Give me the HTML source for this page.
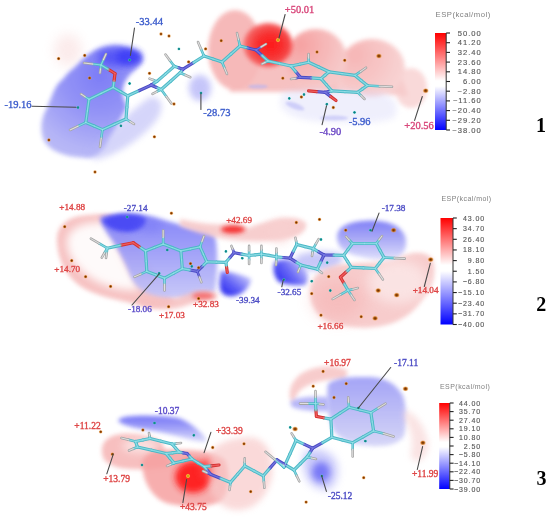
<!DOCTYPE html>
<html><head><meta charset="utf-8"><style>
html,body{margin:0;padding:0;background:#fff;}
svg{display:block;filter:blur(0.45px);}
.tk{font-family:"Liberation Sans",sans-serif;font-size:7px;fill:#5a5a5a;stroke:#5a5a5a;stroke-width:0.15px;letter-spacing:0.9px;}
.tt{font-family:"Liberation Sans",sans-serif;font-size:7px;fill:#808080;letter-spacing:0.45px;}
.num{font-family:"Liberation Serif",serif;font-size:20px;font-weight:bold;fill:#000;}
.lb{font-family:"Liberation Serif",serif;font-size:10.3px;}
</style></head><body>
<svg width="550" height="522" viewBox="0 0 550 522">
<defs>
<filter id="bl1" x="-50%" y="-50%" width="200%" height="200%"><feGaussianBlur stdDeviation="1"/></filter>
<filter id="bl2" x="-50%" y="-50%" width="200%" height="200%"><feGaussianBlur stdDeviation="2"/></filter>
<filter id="bl3" x="-50%" y="-50%" width="200%" height="200%"><feGaussianBlur stdDeviation="3"/></filter>
<filter id="bl4" x="-50%" y="-50%" width="200%" height="200%"><feGaussianBlur stdDeviation="4"/></filter>
<filter id="bl5" x="-50%" y="-50%" width="200%" height="200%"><feGaussianBlur stdDeviation="5"/></filter>
<filter id="bl6" x="-50%" y="-50%" width="200%" height="200%"><feGaussianBlur stdDeviation="6"/></filter>
<filter id="bl8" x="-50%" y="-50%" width="200%" height="200%"><feGaussianBlur stdDeviation="8"/></filter>
<filter id="bl10" x="-50%" y="-50%" width="200%" height="200%"><feGaussianBlur stdDeviation="10"/></filter>
<radialGradient id="p1red" cx="0.55" cy="0.5" r="0.55"><stop offset="0" stop-color="#ff1010"/><stop offset="0.55" stop-color="#f63030"/><stop offset="1" stop-color="#f67070"/></radialGradient>
<radialGradient id="p1bl" gradientUnits="userSpaceOnUse" cx="100" cy="75" r="80"><stop offset="0" stop-color="#7676f6"/><stop offset="0.5" stop-color="#9090f6"/><stop offset="1" stop-color="#b4b4f6"/></radialGradient>
<radialGradient id="p1l3" gradientUnits="userSpaceOnUse" cx="300" cy="45" r="45"><stop offset="0" stop-color="#f69a9a"/><stop offset="1" stop-color="#f6c4c4"/></radialGradient>
<radialGradient id="p1l4" gradientUnits="userSpaceOnUse" cx="355" cy="55" r="50"><stop offset="0" stop-color="#f6b0b0"/><stop offset="1" stop-color="#f8d0d0"/></radialGradient>
<linearGradient id="p2blue" x1="0" y1="212" x2="0" y2="300" gradientUnits="userSpaceOnUse"><stop offset="0" stop-color="#8080f8"/><stop offset="0.35" stop-color="#9696f8"/><stop offset="1" stop-color="#c8c8f8"/></linearGradient>
<linearGradient id="p2blue2" x1="0" y1="218" x2="0" y2="265" gradientUnits="userSpaceOnUse"><stop offset="0" stop-color="#6a6af6"/><stop offset="0.4" stop-color="#9c9cf6"/><stop offset="1" stop-color="#eaeafc"/></linearGradient>
<linearGradient id="p2d39" gradientUnits="userSpaceOnUse" x1="242" y1="274" x2="226" y2="294"><stop offset="0" stop-color="#b4b4fa"/><stop offset="0.55" stop-color="#5a5af6"/><stop offset="1" stop-color="#2a2af0"/></linearGradient>
<linearGradient id="p2d32" gradientUnits="userSpaceOnUse" x1="302" y1="263" x2="279" y2="281"><stop offset="0" stop-color="#c0c0fa"/><stop offset="0.5" stop-color="#6464f6"/><stop offset="1" stop-color="#2c2cf0"/></linearGradient>
<linearGradient id="p3band" x1="0" y1="415" x2="0" y2="440" gradientUnits="userSpaceOnUse"><stop offset="0" stop-color="#6a6af6"/><stop offset="0.5" stop-color="#9a9af8"/><stop offset="1" stop-color="#d4d4fa"/></linearGradient>
<linearGradient id="p3blue" x1="0" y1="376" x2="0" y2="448" gradientUnits="userSpaceOnUse"><stop offset="0" stop-color="#9a9af6"/><stop offset="0.5" stop-color="#b6b6f6"/><stop offset="1" stop-color="#d4d4f7"/></linearGradient>
<radialGradient id="dor"><stop offset="0" stop-color="#5a2a00"/><stop offset="0.5" stop-color="#b05a10"/><stop offset="1" stop-color="#f0a040" stop-opacity="0.3"/></radialGradient>
<radialGradient id="dyl"><stop offset="0" stop-color="#c08000"/><stop offset="0.6" stop-color="#f0c020"/><stop offset="1" stop-color="#f8d060" stop-opacity="0.3"/></radialGradient>
<radialGradient id="dcy"><stop offset="0" stop-color="#106c70"/><stop offset="0.6" stop-color="#20a0a0"/><stop offset="1" stop-color="#60d0d0" stop-opacity="0.3"/></radialGradient>
</defs>
<rect width="550" height="522" fill="#fff"/>
<ellipse cx="68" cy="50" rx="14" ry="16" fill="#f6c8c8" opacity="0.35" filter="url(#bl6)"/>
<path d="M53,93 C56,86 59,82 63,79 C67,74 70,71 74.5,67.6 C78,64 82,60 86,56 C90,53 93,51 97.5,49 C102,47 106,46 112,45.5 C118,45 122,46 126,47.5 C132,50 137,52 141,55 C143,58 143,61 141,64 C138,67 136,69 134,71 C128,76 125,80 123,88 C122,95 124,100 127,106 C122,118 115,130 108,140 C105,148 100,154 90,158 C78,158 65,156 55,151 C46,146 42,140 41.5,130 C41,120 44,113 47,108 C49,103 51,98 53,93 Z" fill="url(#p1bl)" opacity="0.95" filter="url(#bl2)"/>
<ellipse cx="129" cy="57" rx="13" ry="8" fill="#3c3cf6" opacity="0.9" filter="url(#bl3)"/>
<ellipse cx="117" cy="57" rx="20" ry="9" fill="#4040f6" opacity="0.7" filter="url(#bl4)"/>
<ellipse cx="200" cy="88" rx="11" ry="13" fill="#a0a0f6" opacity="0.6" filter="url(#bl3)"/>
<path d="M88,152 C100,140 125,115 150,97 C162,96 166,108 155,122 C140,140 115,156 95,160 Z" fill="#b4b4f6" opacity="0.55" filter="url(#bl3)"/>
<g opacity="0.92" filter="url(#bl2)"><ellipse cx="411" cy="88" rx="16" ry="20" fill="#f9d6d6"/><path d="M330,60 L400,72 L408,96 L340,92 Z" fill="#f7c8c8"/><ellipse cx="372" cy="68" rx="33" ry="29" fill="url(#p1l4)"/><path d="M225,55 L330,60 L340,92 L230,92 Z" fill="#f6bcbc"/><ellipse cx="316" cy="60" rx="31" ry="31" fill="url(#p1l3)"/><ellipse cx="235" cy="50" rx="27" ry="40" fill="#f6b4b4"/></g>
<g opacity="0.97" filter="url(#bl2)"><ellipse cx="268" cy="45" rx="24.5" ry="22" fill="url(#p1red)"/></g>
<path d="M282,92 C300,88 340,90 380,92 C396,96 400,108 394,118 C380,124 350,124 320,122 C300,120 285,115 280,105 Z" fill="#dcdcfa" opacity="0.45" filter="url(#bl3)"/>
<ellipse cx="258" cy="86.5" rx="10" ry="2" fill="#b4b4f6" opacity="0.6" filter="url(#bl1)"/>
<ellipse cx="295" cy="106" rx="10" ry="3" fill="#b4b4f6" opacity="0.55" filter="url(#bl1)" transform="rotate(20 295 106)"/>
<ellipse cx="334" cy="118" rx="14" ry="2.5" fill="#b8b8f6" opacity="0.55" filter="url(#bl1)"/>
<path d="M57,242 C56,228 64,219 80,216 C95,214 105,214 112,215 L140,250 L175,302 C165,309 150,309 135,304 C115,299 95,296 80,286 C66,276 58,260 57,242 Z" fill="#f6bcbc" opacity="0.9" filter="url(#bl2)"/>
<path d="M67,242 C67,232 76,225 90,223 L108,222 L124,258 L140,290 C125,291 110,288 96,281 C80,272 67,258 67,242 Z" fill="#ffffff" opacity="0.92" filter="url(#bl4)"/>
<path d="M100,217 C115,213 135,212 150,216 C165,220 180,225 195,229 C205,231 212,233 215,236 C218,250 218,270 215,292 C200,299 175,300 160,297 C145,294 135,288 130,275 C125,262 118,250 112,240 C106,232 101,225 100,217 Z" fill="url(#p2blue)" opacity="0.95" filter="url(#bl2)"/>
<path d="M102,220 C110,215 120,213.5 128,214 C136,214.5 142,216 146,219 C146,226 140,231 128,232 C116,232 106,228 102,220 Z" fill="#4040f4" opacity="0.85" filter="url(#bl2)"/>
<ellipse cx="150" cy="226" rx="12" ry="6" fill="#6a6af6" opacity="0.35" filter="url(#bl4)"/>
<path d="M140,296 C155,302 175,300 190,293 C200,289 212,290 218,294 L216,300 C205,300 195,302 185,306 C170,311 155,310 140,304 Z" fill="#f6c0c0" opacity="0.85" filter="url(#bl2)"/>
<ellipse cx="203" cy="296" rx="11" ry="3.5" fill="#f65050" opacity="0.7" filter="url(#bl2)"/>
<path d="M180,219 C195,222 210,225 222,224 C232,222 242,224 248,228 C258,224 270,220 282,218 C292,217 302,218 306,223 C308,230 300,236 290,238 C275,241 262,242 245,241 C225,240 205,236 180,226 Z" fill="#f6c6c6" opacity="0.85" filter="url(#bl2)"/>
<ellipse cx="233" cy="229.5" rx="12" ry="4" fill="#f62828" opacity="0.9" filter="url(#bl2)"/>
<path d="M221,271 C232,272 243,275 251,279 C250,287 244,294 234,296 C226,297 221,294 220,288 C219,282 220,276 221,271 Z" fill="url(#p2d39)" opacity="0.95" filter="url(#bl2)"/>
<path d="M296,256 C310,250 330,250 342,254 C345,262 338,268 325,270 C312,272 300,270 296,264 Z" fill="#b0b0f6" opacity="0.7" filter="url(#bl3)"/>
<path d="M275,262 C284,257 296,259 302,265 C308,271 310,279 305,285 C295,286 285,284 279,282 C274,277 272,268 275,262 Z" fill="url(#p2d32)" opacity="0.95" filter="url(#bl2)"/>
<path d="M337,236 C338,226 350,221 370,220.5 C388,220.5 400,225 405,236 C408,246 404,256 395,260 C380,262 360,258 346,252 C339,248 337,242 337,236 Z" fill="url(#p2blue2)" opacity="0.9" filter="url(#bl2)"/>
<path d="M310,292 C310,278 320,268 338,265 C358,262 380,264 398,258 C410,252 424,250 432,258 C437,270 434,288 424,298 C414,312 402,322 382,326 C362,330 335,327 322,318 C313,310 310,300 310,292 Z" fill="#f6c4c4" opacity="0.85" filter="url(#bl2)"/>
<ellipse cx="338" cy="300" rx="26" ry="20" fill="#f6a8a8" opacity="0.4" filter="url(#bl8)"/>
<ellipse cx="398" cy="282" rx="30" ry="22" fill="#ffffff" opacity="0.45" filter="url(#bl6)"/>
<ellipse cx="280" cy="232" rx="12" ry="12" fill="#f8d0d0" opacity="0.55" filter="url(#bl4)"/>
<path d="M102,452 C101,442 108,435 122,434 C138,433 152,436 162,442 L170,466 C155,470 135,470 120,468 C108,465 102,460 102,452 Z" fill="#f6b4b4" opacity="0.85" filter="url(#bl2)"/>
<ellipse cx="140" cy="446" rx="18" ry="7" fill="#ffffff" opacity="0.55" filter="url(#bl4)"/>
<path d="M118,421 C119,418 124,416.5 135,416 C150,415.5 165,416 178,418 C188,421 196,428 202,434 C206,438 207,441 205,442 C198,442 188,439 177,436 C165,433 155,431 145,429.5 C135,428 124,426 118,421 Z" fill="url(#p3band)" opacity="0.95" filter="url(#bl2)"/>
<path d="M142,462 C145,452 160,448 180,450 C200,450 215,452 225,460 C230,472 230,490 222,500 C210,508 190,508 170,504 C152,500 142,480 142,462 Z" fill="#f6a0a0" opacity="0.85" filter="url(#bl2)"/>
<ellipse cx="193" cy="477" rx="18" ry="16" fill="#ff1c1c" opacity="0.95" filter="url(#bl3)"/>
<ellipse cx="208" cy="470" rx="9" ry="11" fill="#ff3c3c" opacity="0.7" filter="url(#bl3)"/>
<path d="M210,452 C220,440 240,436 255,438 C268,442 274,456 272,476 C268,496 255,510 238,510 C225,510 215,502 210,490 Z" fill="#f8caca" opacity="0.7" filter="url(#bl3)"/>
<path d="M290,398 C288,385 297,372 315,368 C328,365 340,366 348,371 L345,379 C330,379 315,381 305,387 C298,391 295,396 294,404 Z" fill="#f6c0c0" opacity="0.8" filter="url(#bl2)"/>
<path d="M290,402 C296,397 310,396 328,397 L330,411 C315,412 300,410 292,407 Z" fill="#a4a4f6" opacity="0.8" filter="url(#bl2)"/>
<path d="M328,384 C334,378 350,376.5 370,377 C385,378 396,383 403,396 C407,408 407,425 404,436 C398,445 385,447 370,446 C352,445 340,440 333,430 C328,418 326,398 328,384 Z" fill="url(#p3blue)" opacity="0.9" filter="url(#bl2)"/>
<path d="M305,452 C312,447 326,449 334,458 C340,468 338,482 330,489 C320,491 311,486 307,478 C303,470 302,460 305,452 Z" fill="#a4a4f8" opacity="0.6" filter="url(#bl4)"/>
<ellipse cx="321" cy="472" rx="9" ry="10" fill="#6c6cf6" opacity="0.85" filter="url(#bl3)"/>
<path d="M404,410 C414,412 424,424 428,440 C430,452 424,460 416,462 L410,456 C414,446 412,430 404,418 Z" fill="#f8d8d8" opacity="0.7" filter="url(#bl3)"/>
<line x1="113.2" y1="87.5" x2="120.5" y2="91.7" stroke="#4cb8c6" stroke-width="3.20" stroke-linecap="round"/>
<line x1="120.5" y1="91.7" x2="127.8" y2="95.8" stroke="#4cb8c6" stroke-width="3.20" stroke-linecap="round"/>
<line x1="127.8" y1="95.8" x2="126.9" y2="107.4" stroke="#4cb8c6" stroke-width="3.20" stroke-linecap="round"/>
<line x1="126.9" y1="107.4" x2="126.0" y2="119.0" stroke="#4cb8c6" stroke-width="3.20" stroke-linecap="round"/>
<line x1="126.0" y1="119.0" x2="114.2" y2="124.3" stroke="#4cb8c6" stroke-width="3.20" stroke-linecap="round"/>
<line x1="114.2" y1="124.3" x2="102.5" y2="129.6" stroke="#4cb8c6" stroke-width="3.20" stroke-linecap="round"/>
<line x1="102.5" y1="129.6" x2="94.2" y2="126.0" stroke="#4cb8c6" stroke-width="3.20" stroke-linecap="round"/>
<line x1="94.2" y1="126.0" x2="85.8" y2="122.5" stroke="#4cb8c6" stroke-width="3.20" stroke-linecap="round"/>
<line x1="85.8" y1="122.5" x2="87.4" y2="110.9" stroke="#4cb8c6" stroke-width="3.20" stroke-linecap="round"/>
<line x1="87.4" y1="110.9" x2="89.0" y2="99.3" stroke="#4cb8c6" stroke-width="3.20" stroke-linecap="round"/>
<line x1="89.0" y1="99.3" x2="101.1" y2="93.4" stroke="#4cb8c6" stroke-width="3.20" stroke-linecap="round"/>
<line x1="101.1" y1="93.4" x2="113.2" y2="87.5" stroke="#4cb8c6" stroke-width="3.20" stroke-linecap="round"/>
<line x1="89.0" y1="99.3" x2="85.0" y2="96.7" stroke="#4cb8c6" stroke-width="2.56" stroke-linecap="round"/>
<line x1="85.0" y1="96.7" x2="81.0" y2="94.0" stroke="#a4a4a4" stroke-width="2.56" stroke-linecap="round"/>
<line x1="85.8" y1="122.5" x2="77.9" y2="126.2" stroke="#4cb8c6" stroke-width="2.56" stroke-linecap="round"/>
<line x1="77.9" y1="126.2" x2="70.0" y2="130.0" stroke="#a4a4a4" stroke-width="2.56" stroke-linecap="round"/>
<line x1="102.5" y1="129.6" x2="101.2" y2="138.3" stroke="#4cb8c6" stroke-width="2.56" stroke-linecap="round"/>
<line x1="101.2" y1="138.3" x2="100.0" y2="147.0" stroke="#a4a4a4" stroke-width="2.56" stroke-linecap="round"/>
<line x1="126.0" y1="119.0" x2="130.0" y2="121.5" stroke="#4cb8c6" stroke-width="2.56" stroke-linecap="round"/>
<line x1="130.0" y1="121.5" x2="134.0" y2="124.0" stroke="#a4a4a4" stroke-width="2.56" stroke-linecap="round"/>
<line x1="113.2" y1="87.5" x2="114.1" y2="80.5" stroke="#4cb8c6" stroke-width="3.20" stroke-linecap="round"/>
<line x1="114.1" y1="80.5" x2="115.0" y2="73.5" stroke="#d43030" stroke-width="3.20" stroke-linecap="round"/>
<line x1="115.0" y1="73.5" x2="108.0" y2="69.2" stroke="#d43030" stroke-width="3.20" stroke-linecap="round"/>
<line x1="108.0" y1="69.2" x2="101.0" y2="65.0" stroke="#4cb8c6" stroke-width="3.20" stroke-linecap="round"/>
<line x1="101.0" y1="65.0" x2="92.5" y2="64.0" stroke="#4cb8c6" stroke-width="2.56" stroke-linecap="round"/>
<line x1="92.5" y1="64.0" x2="84.0" y2="63.0" stroke="#a4a4a4" stroke-width="2.56" stroke-linecap="round"/>
<line x1="101.0" y1="65.0" x2="103.5" y2="59.5" stroke="#4cb8c6" stroke-width="2.56" stroke-linecap="round"/>
<line x1="103.5" y1="59.5" x2="106.0" y2="54.0" stroke="#a4a4a4" stroke-width="2.56" stroke-linecap="round"/>
<line x1="101.0" y1="65.0" x2="100.5" y2="69.0" stroke="#4cb8c6" stroke-width="2.56" stroke-linecap="round"/>
<line x1="100.5" y1="69.0" x2="100.0" y2="73.0" stroke="#a4a4a4" stroke-width="2.56" stroke-linecap="round"/>
<line x1="127.8" y1="95.8" x2="139.4" y2="90.5" stroke="#4cb8c6" stroke-width="3.20" stroke-linecap="round"/>
<line x1="139.4" y1="90.5" x2="151.0" y2="85.2" stroke="#4a4ac4" stroke-width="3.20" stroke-linecap="round"/>
<line x1="151.0" y1="85.2" x2="153.9" y2="83.3" stroke="#4a4ac4" stroke-width="3.20" stroke-linecap="round"/>
<line x1="153.9" y1="83.3" x2="156.8" y2="81.5" stroke="#4cb8c6" stroke-width="3.20" stroke-linecap="round"/>
<line x1="156.8" y1="81.5" x2="165.6" y2="73.9" stroke="#4cb8c6" stroke-width="3.20" stroke-linecap="round"/>
<line x1="165.6" y1="73.9" x2="174.3" y2="66.3" stroke="#4cb8c6" stroke-width="3.20" stroke-linecap="round"/>
<line x1="174.3" y1="66.3" x2="178.7" y2="67.8" stroke="#4cb8c6" stroke-width="3.20" stroke-linecap="round"/>
<line x1="178.7" y1="67.8" x2="183.0" y2="69.2" stroke="#4a4ac4" stroke-width="3.20" stroke-linecap="round"/>
<line x1="183.0" y1="69.2" x2="181.6" y2="71.0" stroke="#4a4ac4" stroke-width="3.20" stroke-linecap="round"/>
<line x1="181.6" y1="71.0" x2="180.1" y2="72.8" stroke="#4cb8c6" stroke-width="3.20" stroke-linecap="round"/>
<line x1="180.1" y1="72.8" x2="170.6" y2="81.2" stroke="#4cb8c6" stroke-width="3.20" stroke-linecap="round"/>
<line x1="170.6" y1="81.2" x2="161.2" y2="89.5" stroke="#4cb8c6" stroke-width="3.20" stroke-linecap="round"/>
<line x1="161.2" y1="89.5" x2="156.1" y2="87.3" stroke="#4cb8c6" stroke-width="3.20" stroke-linecap="round"/>
<line x1="156.1" y1="87.3" x2="151.0" y2="85.2" stroke="#4a4ac4" stroke-width="3.20" stroke-linecap="round"/>
<line x1="174.3" y1="66.3" x2="169.9" y2="60.5" stroke="#4cb8c6" stroke-width="2.56" stroke-linecap="round"/>
<line x1="169.9" y1="60.5" x2="165.5" y2="54.6" stroke="#a4a4a4" stroke-width="2.56" stroke-linecap="round"/>
<line x1="156.8" y1="81.5" x2="153.2" y2="80.0" stroke="#4cb8c6" stroke-width="2.56" stroke-linecap="round"/>
<line x1="153.2" y1="80.0" x2="149.5" y2="78.6" stroke="#a4a4a4" stroke-width="2.56" stroke-linecap="round"/>
<line x1="180.1" y1="72.8" x2="185.2" y2="75.0" stroke="#4cb8c6" stroke-width="2.56" stroke-linecap="round"/>
<line x1="185.2" y1="75.0" x2="190.3" y2="77.2" stroke="#a4a4a4" stroke-width="2.56" stroke-linecap="round"/>
<line x1="161.2" y1="89.5" x2="156.8" y2="91.7" stroke="#4cb8c6" stroke-width="2.56" stroke-linecap="round"/>
<line x1="156.8" y1="91.7" x2="152.5" y2="93.9" stroke="#a4a4a4" stroke-width="2.56" stroke-linecap="round"/>
<line x1="161.2" y1="89.5" x2="166.3" y2="96.5" stroke="#4cb8c6" stroke-width="2.56" stroke-linecap="round"/>
<line x1="166.3" y1="96.5" x2="171.4" y2="103.4" stroke="#a4a4a4" stroke-width="2.56" stroke-linecap="round"/>
<line x1="183.0" y1="69.2" x2="193.5" y2="62.6" stroke="#4a4ac4" stroke-width="3.20" stroke-linecap="round"/>
<line x1="193.5" y1="62.6" x2="204.0" y2="56.0" stroke="#4cb8c6" stroke-width="3.20" stroke-linecap="round"/>
<line x1="204.0" y1="56.0" x2="213.0" y2="59.0" stroke="#4cb8c6" stroke-width="3.20" stroke-linecap="round"/>
<line x1="213.0" y1="59.0" x2="222.0" y2="62.0" stroke="#4cb8c6" stroke-width="3.20" stroke-linecap="round"/>
<line x1="222.0" y1="62.0" x2="231.0" y2="54.0" stroke="#4cb8c6" stroke-width="3.20" stroke-linecap="round"/>
<line x1="231.0" y1="54.0" x2="240.0" y2="46.0" stroke="#4cb8c6" stroke-width="3.20" stroke-linecap="round"/>
<line x1="240.0" y1="46.0" x2="248.0" y2="48.0" stroke="#4cb8c6" stroke-width="3.20" stroke-linecap="round"/>
<line x1="248.0" y1="48.0" x2="256.0" y2="50.0" stroke="#4a4ac4" stroke-width="3.20" stroke-linecap="round"/>
<line x1="204.0" y1="56.0" x2="201.0" y2="49.0" stroke="#4cb8c6" stroke-width="2.56" stroke-linecap="round"/>
<line x1="201.0" y1="49.0" x2="198.0" y2="42.0" stroke="#a4a4a4" stroke-width="2.56" stroke-linecap="round"/>
<line x1="222.0" y1="62.0" x2="224.5" y2="68.0" stroke="#4cb8c6" stroke-width="2.56" stroke-linecap="round"/>
<line x1="224.5" y1="68.0" x2="227.0" y2="74.0" stroke="#a4a4a4" stroke-width="2.56" stroke-linecap="round"/>
<line x1="240.0" y1="46.0" x2="238.5" y2="39.5" stroke="#4cb8c6" stroke-width="2.56" stroke-linecap="round"/>
<line x1="238.5" y1="39.5" x2="237.0" y2="33.0" stroke="#a4a4a4" stroke-width="2.56" stroke-linecap="round"/>
<line x1="256.0" y1="50.0" x2="261.0" y2="47.0" stroke="#4a4ac4" stroke-width="2.56" stroke-linecap="round"/>
<line x1="261.0" y1="47.0" x2="266.0" y2="44.0" stroke="#a4a4a4" stroke-width="2.56" stroke-linecap="round"/>
<line x1="256.0" y1="50.0" x2="262.0" y2="55.5" stroke="#4a4ac4" stroke-width="3.20" stroke-linecap="round"/>
<line x1="262.0" y1="55.5" x2="268.0" y2="61.0" stroke="#4cb8c6" stroke-width="3.20" stroke-linecap="round"/>
<line x1="268.0" y1="61.0" x2="265.0" y2="62.5" stroke="#4cb8c6" stroke-width="2.56" stroke-linecap="round"/>
<line x1="265.0" y1="62.5" x2="262.0" y2="64.0" stroke="#a4a4a4" stroke-width="2.56" stroke-linecap="round"/>
<line x1="268.0" y1="61.0" x2="279.5" y2="63.5" stroke="#4cb8c6" stroke-width="3.20" stroke-linecap="round"/>
<line x1="279.5" y1="63.5" x2="291.0" y2="66.0" stroke="#4cb8c6" stroke-width="3.20" stroke-linecap="round"/>
<line x1="291.0" y1="66.0" x2="299.8" y2="64.2" stroke="#4cb8c6" stroke-width="3.20" stroke-linecap="round"/>
<line x1="299.8" y1="64.2" x2="308.6" y2="62.3" stroke="#4cb8c6" stroke-width="3.20" stroke-linecap="round"/>
<line x1="308.6" y1="62.3" x2="318.8" y2="67.0" stroke="#4cb8c6" stroke-width="3.20" stroke-linecap="round"/>
<line x1="318.8" y1="67.0" x2="329.0" y2="71.8" stroke="#4cb8c6" stroke-width="3.20" stroke-linecap="round"/>
<line x1="329.0" y1="71.8" x2="325.0" y2="75.2" stroke="#4cb8c6" stroke-width="3.20" stroke-linecap="round"/>
<line x1="325.0" y1="75.2" x2="321.0" y2="78.6" stroke="#4cb8c6" stroke-width="3.20" stroke-linecap="round"/>
<line x1="321.0" y1="78.6" x2="310.8" y2="77.9" stroke="#4cb8c6" stroke-width="3.20" stroke-linecap="round"/>
<line x1="310.8" y1="77.9" x2="300.5" y2="77.3" stroke="#4a4ac4" stroke-width="3.20" stroke-linecap="round"/>
<line x1="300.5" y1="77.3" x2="295.8" y2="71.7" stroke="#4a4ac4" stroke-width="3.20" stroke-linecap="round"/>
<line x1="295.8" y1="71.7" x2="291.0" y2="66.0" stroke="#4cb8c6" stroke-width="3.20" stroke-linecap="round"/>
<line x1="308.6" y1="62.3" x2="308.6" y2="58.1" stroke="#4cb8c6" stroke-width="2.56" stroke-linecap="round"/>
<line x1="308.6" y1="58.1" x2="308.6" y2="54.0" stroke="#a4a4a4" stroke-width="2.56" stroke-linecap="round"/>
<line x1="300.5" y1="77.3" x2="295.8" y2="78.2" stroke="#4a4ac4" stroke-width="2.56" stroke-linecap="round"/>
<line x1="295.8" y1="78.2" x2="291.0" y2="79.0" stroke="#a4a4a4" stroke-width="2.56" stroke-linecap="round"/>
<line x1="329.0" y1="71.8" x2="342.0" y2="73.6" stroke="#4cb8c6" stroke-width="3.20" stroke-linecap="round"/>
<line x1="342.0" y1="73.6" x2="355.0" y2="75.4" stroke="#4cb8c6" stroke-width="3.20" stroke-linecap="round"/>
<line x1="355.0" y1="75.4" x2="361.1" y2="80.5" stroke="#4cb8c6" stroke-width="3.20" stroke-linecap="round"/>
<line x1="361.1" y1="80.5" x2="367.3" y2="85.5" stroke="#4cb8c6" stroke-width="3.20" stroke-linecap="round"/>
<line x1="367.3" y1="85.5" x2="362.5" y2="88.9" stroke="#4cb8c6" stroke-width="3.20" stroke-linecap="round"/>
<line x1="362.5" y1="88.9" x2="357.7" y2="92.3" stroke="#4cb8c6" stroke-width="3.20" stroke-linecap="round"/>
<line x1="357.7" y1="92.3" x2="344.8" y2="91.6" stroke="#4cb8c6" stroke-width="3.20" stroke-linecap="round"/>
<line x1="344.8" y1="91.6" x2="331.8" y2="90.9" stroke="#4cb8c6" stroke-width="3.20" stroke-linecap="round"/>
<line x1="331.8" y1="90.9" x2="326.4" y2="84.8" stroke="#4cb8c6" stroke-width="3.20" stroke-linecap="round"/>
<line x1="326.4" y1="84.8" x2="321.0" y2="78.6" stroke="#4cb8c6" stroke-width="3.20" stroke-linecap="round"/>
<line x1="355.0" y1="75.4" x2="360.5" y2="71.6" stroke="#4cb8c6" stroke-width="2.56" stroke-linecap="round"/>
<line x1="360.5" y1="71.6" x2="366.0" y2="67.7" stroke="#a4a4a4" stroke-width="2.56" stroke-linecap="round"/>
<line x1="367.3" y1="85.5" x2="379.6" y2="86.2" stroke="#4cb8c6" stroke-width="2.56" stroke-linecap="round"/>
<line x1="379.6" y1="86.2" x2="392.0" y2="86.8" stroke="#a4a4a4" stroke-width="2.56" stroke-linecap="round"/>
<line x1="357.7" y1="92.3" x2="361.1" y2="95.7" stroke="#4cb8c6" stroke-width="2.56" stroke-linecap="round"/>
<line x1="361.1" y1="95.7" x2="364.5" y2="99.0" stroke="#a4a4a4" stroke-width="2.56" stroke-linecap="round"/>
<line x1="331.8" y1="90.9" x2="328.4" y2="91.6" stroke="#4cb8c6" stroke-width="3.20" stroke-linecap="round"/>
<line x1="328.4" y1="91.6" x2="325.0" y2="92.3" stroke="#4a4ac4" stroke-width="3.20" stroke-linecap="round"/>
<line x1="325.0" y1="92.3" x2="316.8" y2="91.6" stroke="#4a4ac4" stroke-width="3.20" stroke-linecap="round"/>
<line x1="316.8" y1="91.6" x2="308.6" y2="90.9" stroke="#d43030" stroke-width="3.20" stroke-linecap="round"/>
<line x1="325.0" y1="92.3" x2="330.5" y2="96.4" stroke="#4a4ac4" stroke-width="3.20" stroke-linecap="round"/>
<line x1="330.5" y1="96.4" x2="336.0" y2="100.5" stroke="#d43030" stroke-width="3.20" stroke-linecap="round"/>
<line x1="113.2" y1="87.5" x2="120.5" y2="91.7" stroke="#98e2ea" stroke-width="1.28" stroke-linecap="round" opacity="0.8"/>
<line x1="120.5" y1="91.7" x2="127.8" y2="95.8" stroke="#98e2ea" stroke-width="1.28" stroke-linecap="round" opacity="0.8"/>
<line x1="127.8" y1="95.8" x2="126.9" y2="107.4" stroke="#98e2ea" stroke-width="1.28" stroke-linecap="round" opacity="0.8"/>
<line x1="126.9" y1="107.4" x2="126.0" y2="119.0" stroke="#98e2ea" stroke-width="1.28" stroke-linecap="round" opacity="0.8"/>
<line x1="126.0" y1="119.0" x2="114.2" y2="124.3" stroke="#98e2ea" stroke-width="1.28" stroke-linecap="round" opacity="0.8"/>
<line x1="114.2" y1="124.3" x2="102.5" y2="129.6" stroke="#98e2ea" stroke-width="1.28" stroke-linecap="round" opacity="0.8"/>
<line x1="102.5" y1="129.6" x2="94.2" y2="126.0" stroke="#98e2ea" stroke-width="1.28" stroke-linecap="round" opacity="0.8"/>
<line x1="94.2" y1="126.0" x2="85.8" y2="122.5" stroke="#98e2ea" stroke-width="1.28" stroke-linecap="round" opacity="0.8"/>
<line x1="85.8" y1="122.5" x2="87.4" y2="110.9" stroke="#98e2ea" stroke-width="1.28" stroke-linecap="round" opacity="0.8"/>
<line x1="87.4" y1="110.9" x2="89.0" y2="99.3" stroke="#98e2ea" stroke-width="1.28" stroke-linecap="round" opacity="0.8"/>
<line x1="89.0" y1="99.3" x2="101.1" y2="93.4" stroke="#98e2ea" stroke-width="1.28" stroke-linecap="round" opacity="0.8"/>
<line x1="101.1" y1="93.4" x2="113.2" y2="87.5" stroke="#98e2ea" stroke-width="1.28" stroke-linecap="round" opacity="0.8"/>
<line x1="89.0" y1="99.3" x2="85.0" y2="96.7" stroke="#98e2ea" stroke-width="1.02" stroke-linecap="round" opacity="0.8"/>
<line x1="85.0" y1="96.7" x2="81.0" y2="94.0" stroke="#eeeeee" stroke-width="1.02" stroke-linecap="round" opacity="0.8"/>
<line x1="85.8" y1="122.5" x2="77.9" y2="126.2" stroke="#98e2ea" stroke-width="1.02" stroke-linecap="round" opacity="0.8"/>
<line x1="77.9" y1="126.2" x2="70.0" y2="130.0" stroke="#eeeeee" stroke-width="1.02" stroke-linecap="round" opacity="0.8"/>
<line x1="102.5" y1="129.6" x2="101.2" y2="138.3" stroke="#98e2ea" stroke-width="1.02" stroke-linecap="round" opacity="0.8"/>
<line x1="101.2" y1="138.3" x2="100.0" y2="147.0" stroke="#eeeeee" stroke-width="1.02" stroke-linecap="round" opacity="0.8"/>
<line x1="126.0" y1="119.0" x2="130.0" y2="121.5" stroke="#98e2ea" stroke-width="1.02" stroke-linecap="round" opacity="0.8"/>
<line x1="130.0" y1="121.5" x2="134.0" y2="124.0" stroke="#eeeeee" stroke-width="1.02" stroke-linecap="round" opacity="0.8"/>
<line x1="113.2" y1="87.5" x2="114.1" y2="80.5" stroke="#98e2ea" stroke-width="1.28" stroke-linecap="round" opacity="0.8"/>
<line x1="114.1" y1="80.5" x2="115.0" y2="73.5" stroke="#f46868" stroke-width="1.28" stroke-linecap="round" opacity="0.8"/>
<line x1="115.0" y1="73.5" x2="108.0" y2="69.2" stroke="#f46868" stroke-width="1.28" stroke-linecap="round" opacity="0.8"/>
<line x1="108.0" y1="69.2" x2="101.0" y2="65.0" stroke="#98e2ea" stroke-width="1.28" stroke-linecap="round" opacity="0.8"/>
<line x1="101.0" y1="65.0" x2="92.5" y2="64.0" stroke="#98e2ea" stroke-width="1.02" stroke-linecap="round" opacity="0.8"/>
<line x1="92.5" y1="64.0" x2="84.0" y2="63.0" stroke="#eeeeee" stroke-width="1.02" stroke-linecap="round" opacity="0.8"/>
<line x1="101.0" y1="65.0" x2="103.5" y2="59.5" stroke="#98e2ea" stroke-width="1.02" stroke-linecap="round" opacity="0.8"/>
<line x1="103.5" y1="59.5" x2="106.0" y2="54.0" stroke="#eeeeee" stroke-width="1.02" stroke-linecap="round" opacity="0.8"/>
<line x1="101.0" y1="65.0" x2="100.5" y2="69.0" stroke="#98e2ea" stroke-width="1.02" stroke-linecap="round" opacity="0.8"/>
<line x1="100.5" y1="69.0" x2="100.0" y2="73.0" stroke="#eeeeee" stroke-width="1.02" stroke-linecap="round" opacity="0.8"/>
<line x1="127.8" y1="95.8" x2="139.4" y2="90.5" stroke="#98e2ea" stroke-width="1.28" stroke-linecap="round" opacity="0.8"/>
<line x1="139.4" y1="90.5" x2="151.0" y2="85.2" stroke="#7c7ce4" stroke-width="1.28" stroke-linecap="round" opacity="0.8"/>
<line x1="151.0" y1="85.2" x2="153.9" y2="83.3" stroke="#7c7ce4" stroke-width="1.28" stroke-linecap="round" opacity="0.8"/>
<line x1="153.9" y1="83.3" x2="156.8" y2="81.5" stroke="#98e2ea" stroke-width="1.28" stroke-linecap="round" opacity="0.8"/>
<line x1="156.8" y1="81.5" x2="165.6" y2="73.9" stroke="#98e2ea" stroke-width="1.28" stroke-linecap="round" opacity="0.8"/>
<line x1="165.6" y1="73.9" x2="174.3" y2="66.3" stroke="#98e2ea" stroke-width="1.28" stroke-linecap="round" opacity="0.8"/>
<line x1="174.3" y1="66.3" x2="178.7" y2="67.8" stroke="#98e2ea" stroke-width="1.28" stroke-linecap="round" opacity="0.8"/>
<line x1="178.7" y1="67.8" x2="183.0" y2="69.2" stroke="#7c7ce4" stroke-width="1.28" stroke-linecap="round" opacity="0.8"/>
<line x1="183.0" y1="69.2" x2="181.6" y2="71.0" stroke="#7c7ce4" stroke-width="1.28" stroke-linecap="round" opacity="0.8"/>
<line x1="181.6" y1="71.0" x2="180.1" y2="72.8" stroke="#98e2ea" stroke-width="1.28" stroke-linecap="round" opacity="0.8"/>
<line x1="180.1" y1="72.8" x2="170.6" y2="81.2" stroke="#98e2ea" stroke-width="1.28" stroke-linecap="round" opacity="0.8"/>
<line x1="170.6" y1="81.2" x2="161.2" y2="89.5" stroke="#98e2ea" stroke-width="1.28" stroke-linecap="round" opacity="0.8"/>
<line x1="161.2" y1="89.5" x2="156.1" y2="87.3" stroke="#98e2ea" stroke-width="1.28" stroke-linecap="round" opacity="0.8"/>
<line x1="156.1" y1="87.3" x2="151.0" y2="85.2" stroke="#7c7ce4" stroke-width="1.28" stroke-linecap="round" opacity="0.8"/>
<line x1="174.3" y1="66.3" x2="169.9" y2="60.5" stroke="#98e2ea" stroke-width="1.02" stroke-linecap="round" opacity="0.8"/>
<line x1="169.9" y1="60.5" x2="165.5" y2="54.6" stroke="#eeeeee" stroke-width="1.02" stroke-linecap="round" opacity="0.8"/>
<line x1="156.8" y1="81.5" x2="153.2" y2="80.0" stroke="#98e2ea" stroke-width="1.02" stroke-linecap="round" opacity="0.8"/>
<line x1="153.2" y1="80.0" x2="149.5" y2="78.6" stroke="#eeeeee" stroke-width="1.02" stroke-linecap="round" opacity="0.8"/>
<line x1="180.1" y1="72.8" x2="185.2" y2="75.0" stroke="#98e2ea" stroke-width="1.02" stroke-linecap="round" opacity="0.8"/>
<line x1="185.2" y1="75.0" x2="190.3" y2="77.2" stroke="#eeeeee" stroke-width="1.02" stroke-linecap="round" opacity="0.8"/>
<line x1="161.2" y1="89.5" x2="156.8" y2="91.7" stroke="#98e2ea" stroke-width="1.02" stroke-linecap="round" opacity="0.8"/>
<line x1="156.8" y1="91.7" x2="152.5" y2="93.9" stroke="#eeeeee" stroke-width="1.02" stroke-linecap="round" opacity="0.8"/>
<line x1="161.2" y1="89.5" x2="166.3" y2="96.5" stroke="#98e2ea" stroke-width="1.02" stroke-linecap="round" opacity="0.8"/>
<line x1="166.3" y1="96.5" x2="171.4" y2="103.4" stroke="#eeeeee" stroke-width="1.02" stroke-linecap="round" opacity="0.8"/>
<line x1="183.0" y1="69.2" x2="193.5" y2="62.6" stroke="#7c7ce4" stroke-width="1.28" stroke-linecap="round" opacity="0.8"/>
<line x1="193.5" y1="62.6" x2="204.0" y2="56.0" stroke="#98e2ea" stroke-width="1.28" stroke-linecap="round" opacity="0.8"/>
<line x1="204.0" y1="56.0" x2="213.0" y2="59.0" stroke="#98e2ea" stroke-width="1.28" stroke-linecap="round" opacity="0.8"/>
<line x1="213.0" y1="59.0" x2="222.0" y2="62.0" stroke="#98e2ea" stroke-width="1.28" stroke-linecap="round" opacity="0.8"/>
<line x1="222.0" y1="62.0" x2="231.0" y2="54.0" stroke="#98e2ea" stroke-width="1.28" stroke-linecap="round" opacity="0.8"/>
<line x1="231.0" y1="54.0" x2="240.0" y2="46.0" stroke="#98e2ea" stroke-width="1.28" stroke-linecap="round" opacity="0.8"/>
<line x1="240.0" y1="46.0" x2="248.0" y2="48.0" stroke="#98e2ea" stroke-width="1.28" stroke-linecap="round" opacity="0.8"/>
<line x1="248.0" y1="48.0" x2="256.0" y2="50.0" stroke="#7c7ce4" stroke-width="1.28" stroke-linecap="round" opacity="0.8"/>
<line x1="204.0" y1="56.0" x2="201.0" y2="49.0" stroke="#98e2ea" stroke-width="1.02" stroke-linecap="round" opacity="0.8"/>
<line x1="201.0" y1="49.0" x2="198.0" y2="42.0" stroke="#eeeeee" stroke-width="1.02" stroke-linecap="round" opacity="0.8"/>
<line x1="222.0" y1="62.0" x2="224.5" y2="68.0" stroke="#98e2ea" stroke-width="1.02" stroke-linecap="round" opacity="0.8"/>
<line x1="224.5" y1="68.0" x2="227.0" y2="74.0" stroke="#eeeeee" stroke-width="1.02" stroke-linecap="round" opacity="0.8"/>
<line x1="240.0" y1="46.0" x2="238.5" y2="39.5" stroke="#98e2ea" stroke-width="1.02" stroke-linecap="round" opacity="0.8"/>
<line x1="238.5" y1="39.5" x2="237.0" y2="33.0" stroke="#eeeeee" stroke-width="1.02" stroke-linecap="round" opacity="0.8"/>
<line x1="256.0" y1="50.0" x2="261.0" y2="47.0" stroke="#7c7ce4" stroke-width="1.02" stroke-linecap="round" opacity="0.8"/>
<line x1="261.0" y1="47.0" x2="266.0" y2="44.0" stroke="#eeeeee" stroke-width="1.02" stroke-linecap="round" opacity="0.8"/>
<line x1="256.0" y1="50.0" x2="262.0" y2="55.5" stroke="#7c7ce4" stroke-width="1.28" stroke-linecap="round" opacity="0.8"/>
<line x1="262.0" y1="55.5" x2="268.0" y2="61.0" stroke="#98e2ea" stroke-width="1.28" stroke-linecap="round" opacity="0.8"/>
<line x1="268.0" y1="61.0" x2="265.0" y2="62.5" stroke="#98e2ea" stroke-width="1.02" stroke-linecap="round" opacity="0.8"/>
<line x1="265.0" y1="62.5" x2="262.0" y2="64.0" stroke="#eeeeee" stroke-width="1.02" stroke-linecap="round" opacity="0.8"/>
<line x1="268.0" y1="61.0" x2="279.5" y2="63.5" stroke="#98e2ea" stroke-width="1.28" stroke-linecap="round" opacity="0.8"/>
<line x1="279.5" y1="63.5" x2="291.0" y2="66.0" stroke="#98e2ea" stroke-width="1.28" stroke-linecap="round" opacity="0.8"/>
<line x1="291.0" y1="66.0" x2="299.8" y2="64.2" stroke="#98e2ea" stroke-width="1.28" stroke-linecap="round" opacity="0.8"/>
<line x1="299.8" y1="64.2" x2="308.6" y2="62.3" stroke="#98e2ea" stroke-width="1.28" stroke-linecap="round" opacity="0.8"/>
<line x1="308.6" y1="62.3" x2="318.8" y2="67.0" stroke="#98e2ea" stroke-width="1.28" stroke-linecap="round" opacity="0.8"/>
<line x1="318.8" y1="67.0" x2="329.0" y2="71.8" stroke="#98e2ea" stroke-width="1.28" stroke-linecap="round" opacity="0.8"/>
<line x1="329.0" y1="71.8" x2="325.0" y2="75.2" stroke="#98e2ea" stroke-width="1.28" stroke-linecap="round" opacity="0.8"/>
<line x1="325.0" y1="75.2" x2="321.0" y2="78.6" stroke="#98e2ea" stroke-width="1.28" stroke-linecap="round" opacity="0.8"/>
<line x1="321.0" y1="78.6" x2="310.8" y2="77.9" stroke="#98e2ea" stroke-width="1.28" stroke-linecap="round" opacity="0.8"/>
<line x1="310.8" y1="77.9" x2="300.5" y2="77.3" stroke="#7c7ce4" stroke-width="1.28" stroke-linecap="round" opacity="0.8"/>
<line x1="300.5" y1="77.3" x2="295.8" y2="71.7" stroke="#7c7ce4" stroke-width="1.28" stroke-linecap="round" opacity="0.8"/>
<line x1="295.8" y1="71.7" x2="291.0" y2="66.0" stroke="#98e2ea" stroke-width="1.28" stroke-linecap="round" opacity="0.8"/>
<line x1="308.6" y1="62.3" x2="308.6" y2="58.1" stroke="#98e2ea" stroke-width="1.02" stroke-linecap="round" opacity="0.8"/>
<line x1="308.6" y1="58.1" x2="308.6" y2="54.0" stroke="#eeeeee" stroke-width="1.02" stroke-linecap="round" opacity="0.8"/>
<line x1="300.5" y1="77.3" x2="295.8" y2="78.2" stroke="#7c7ce4" stroke-width="1.02" stroke-linecap="round" opacity="0.8"/>
<line x1="295.8" y1="78.2" x2="291.0" y2="79.0" stroke="#eeeeee" stroke-width="1.02" stroke-linecap="round" opacity="0.8"/>
<line x1="329.0" y1="71.8" x2="342.0" y2="73.6" stroke="#98e2ea" stroke-width="1.28" stroke-linecap="round" opacity="0.8"/>
<line x1="342.0" y1="73.6" x2="355.0" y2="75.4" stroke="#98e2ea" stroke-width="1.28" stroke-linecap="round" opacity="0.8"/>
<line x1="355.0" y1="75.4" x2="361.1" y2="80.5" stroke="#98e2ea" stroke-width="1.28" stroke-linecap="round" opacity="0.8"/>
<line x1="361.1" y1="80.5" x2="367.3" y2="85.5" stroke="#98e2ea" stroke-width="1.28" stroke-linecap="round" opacity="0.8"/>
<line x1="367.3" y1="85.5" x2="362.5" y2="88.9" stroke="#98e2ea" stroke-width="1.28" stroke-linecap="round" opacity="0.8"/>
<line x1="362.5" y1="88.9" x2="357.7" y2="92.3" stroke="#98e2ea" stroke-width="1.28" stroke-linecap="round" opacity="0.8"/>
<line x1="357.7" y1="92.3" x2="344.8" y2="91.6" stroke="#98e2ea" stroke-width="1.28" stroke-linecap="round" opacity="0.8"/>
<line x1="344.8" y1="91.6" x2="331.8" y2="90.9" stroke="#98e2ea" stroke-width="1.28" stroke-linecap="round" opacity="0.8"/>
<line x1="331.8" y1="90.9" x2="326.4" y2="84.8" stroke="#98e2ea" stroke-width="1.28" stroke-linecap="round" opacity="0.8"/>
<line x1="326.4" y1="84.8" x2="321.0" y2="78.6" stroke="#98e2ea" stroke-width="1.28" stroke-linecap="round" opacity="0.8"/>
<line x1="355.0" y1="75.4" x2="360.5" y2="71.6" stroke="#98e2ea" stroke-width="1.02" stroke-linecap="round" opacity="0.8"/>
<line x1="360.5" y1="71.6" x2="366.0" y2="67.7" stroke="#eeeeee" stroke-width="1.02" stroke-linecap="round" opacity="0.8"/>
<line x1="367.3" y1="85.5" x2="379.6" y2="86.2" stroke="#98e2ea" stroke-width="1.02" stroke-linecap="round" opacity="0.8"/>
<line x1="379.6" y1="86.2" x2="392.0" y2="86.8" stroke="#eeeeee" stroke-width="1.02" stroke-linecap="round" opacity="0.8"/>
<line x1="357.7" y1="92.3" x2="361.1" y2="95.7" stroke="#98e2ea" stroke-width="1.02" stroke-linecap="round" opacity="0.8"/>
<line x1="361.1" y1="95.7" x2="364.5" y2="99.0" stroke="#eeeeee" stroke-width="1.02" stroke-linecap="round" opacity="0.8"/>
<line x1="331.8" y1="90.9" x2="328.4" y2="91.6" stroke="#98e2ea" stroke-width="1.28" stroke-linecap="round" opacity="0.8"/>
<line x1="328.4" y1="91.6" x2="325.0" y2="92.3" stroke="#7c7ce4" stroke-width="1.28" stroke-linecap="round" opacity="0.8"/>
<line x1="325.0" y1="92.3" x2="316.8" y2="91.6" stroke="#7c7ce4" stroke-width="1.28" stroke-linecap="round" opacity="0.8"/>
<line x1="316.8" y1="91.6" x2="308.6" y2="90.9" stroke="#f46868" stroke-width="1.28" stroke-linecap="round" opacity="0.8"/>
<line x1="325.0" y1="92.3" x2="330.5" y2="96.4" stroke="#7c7ce4" stroke-width="1.28" stroke-linecap="round" opacity="0.8"/>
<line x1="330.5" y1="96.4" x2="336.0" y2="100.5" stroke="#f46868" stroke-width="1.28" stroke-linecap="round" opacity="0.8"/>
<line x1="163.2" y1="244.1" x2="172.1" y2="247.5" stroke="#4cb8c6" stroke-width="3.20" stroke-linecap="round"/>
<line x1="172.1" y1="247.5" x2="180.9" y2="250.9" stroke="#4cb8c6" stroke-width="3.20" stroke-linecap="round"/>
<line x1="180.9" y1="250.9" x2="181.6" y2="259.8" stroke="#4cb8c6" stroke-width="3.20" stroke-linecap="round"/>
<line x1="181.6" y1="259.8" x2="182.3" y2="268.6" stroke="#4cb8c6" stroke-width="3.20" stroke-linecap="round"/>
<line x1="182.3" y1="268.6" x2="173.4" y2="273.4" stroke="#4cb8c6" stroke-width="3.20" stroke-linecap="round"/>
<line x1="173.4" y1="273.4" x2="164.5" y2="278.2" stroke="#4cb8c6" stroke-width="3.20" stroke-linecap="round"/>
<line x1="164.5" y1="278.2" x2="155.7" y2="274.8" stroke="#4cb8c6" stroke-width="3.20" stroke-linecap="round"/>
<line x1="155.7" y1="274.8" x2="146.8" y2="271.4" stroke="#4cb8c6" stroke-width="3.20" stroke-linecap="round"/>
<line x1="146.8" y1="271.4" x2="146.2" y2="261.1" stroke="#4cb8c6" stroke-width="3.20" stroke-linecap="round"/>
<line x1="146.2" y1="261.1" x2="145.5" y2="250.9" stroke="#4cb8c6" stroke-width="3.20" stroke-linecap="round"/>
<line x1="145.5" y1="250.9" x2="154.3" y2="247.5" stroke="#4cb8c6" stroke-width="3.20" stroke-linecap="round"/>
<line x1="154.3" y1="247.5" x2="163.2" y2="244.1" stroke="#4cb8c6" stroke-width="3.20" stroke-linecap="round"/>
<line x1="180.9" y1="250.9" x2="190.4" y2="248.9" stroke="#4cb8c6" stroke-width="3.20" stroke-linecap="round"/>
<line x1="190.4" y1="248.9" x2="200.0" y2="246.8" stroke="#4cb8c6" stroke-width="3.20" stroke-linecap="round"/>
<line x1="200.0" y1="246.8" x2="203.4" y2="254.3" stroke="#4cb8c6" stroke-width="3.20" stroke-linecap="round"/>
<line x1="203.4" y1="254.3" x2="206.8" y2="261.8" stroke="#4cb8c6" stroke-width="3.20" stroke-linecap="round"/>
<line x1="206.8" y1="261.8" x2="202.1" y2="266.6" stroke="#4cb8c6" stroke-width="3.20" stroke-linecap="round"/>
<line x1="202.1" y1="266.6" x2="197.3" y2="271.4" stroke="#4a4ac4" stroke-width="3.20" stroke-linecap="round"/>
<line x1="197.3" y1="271.4" x2="189.8" y2="270.0" stroke="#4a4ac4" stroke-width="3.20" stroke-linecap="round"/>
<line x1="189.8" y1="270.0" x2="182.3" y2="268.6" stroke="#4cb8c6" stroke-width="3.20" stroke-linecap="round"/>
<line x1="163.2" y1="244.1" x2="163.2" y2="237.3" stroke="#4cb8c6" stroke-width="2.56" stroke-linecap="round"/>
<line x1="163.2" y1="237.3" x2="163.2" y2="230.5" stroke="#a4a4a4" stroke-width="2.56" stroke-linecap="round"/>
<line x1="200.0" y1="246.8" x2="202.0" y2="241.4" stroke="#4cb8c6" stroke-width="2.56" stroke-linecap="round"/>
<line x1="202.0" y1="241.4" x2="204.0" y2="236.0" stroke="#a4a4a4" stroke-width="2.56" stroke-linecap="round"/>
<line x1="197.3" y1="271.4" x2="199.4" y2="276.9" stroke="#4a4ac4" stroke-width="2.56" stroke-linecap="round"/>
<line x1="199.4" y1="276.9" x2="201.4" y2="282.3" stroke="#a4a4a4" stroke-width="2.56" stroke-linecap="round"/>
<line x1="164.5" y1="278.2" x2="164.5" y2="284.4" stroke="#4cb8c6" stroke-width="2.56" stroke-linecap="round"/>
<line x1="164.5" y1="284.4" x2="164.5" y2="290.5" stroke="#a4a4a4" stroke-width="2.56" stroke-linecap="round"/>
<line x1="146.8" y1="271.4" x2="140.7" y2="274.1" stroke="#4cb8c6" stroke-width="2.56" stroke-linecap="round"/>
<line x1="140.7" y1="274.1" x2="134.5" y2="276.8" stroke="#a4a4a4" stroke-width="2.56" stroke-linecap="round"/>
<line x1="145.5" y1="250.9" x2="139.3" y2="246.8" stroke="#4cb8c6" stroke-width="3.20" stroke-linecap="round"/>
<line x1="139.3" y1="246.8" x2="133.2" y2="242.7" stroke="#d43030" stroke-width="3.20" stroke-linecap="round"/>
<line x1="133.2" y1="242.7" x2="120.2" y2="245.4" stroke="#d43030" stroke-width="3.20" stroke-linecap="round"/>
<line x1="120.2" y1="245.4" x2="107.3" y2="248.2" stroke="#4cb8c6" stroke-width="3.20" stroke-linecap="round"/>
<line x1="107.3" y1="248.2" x2="99.1" y2="243.4" stroke="#4cb8c6" stroke-width="2.56" stroke-linecap="round"/>
<line x1="99.1" y1="243.4" x2="90.9" y2="238.6" stroke="#a4a4a4" stroke-width="2.56" stroke-linecap="round"/>
<line x1="107.3" y1="248.2" x2="104.5" y2="252.9" stroke="#4cb8c6" stroke-width="2.56" stroke-linecap="round"/>
<line x1="104.5" y1="252.9" x2="101.8" y2="257.7" stroke="#a4a4a4" stroke-width="2.56" stroke-linecap="round"/>
<line x1="107.3" y1="248.2" x2="106.7" y2="253.1" stroke="#4cb8c6" stroke-width="2.56" stroke-linecap="round"/>
<line x1="106.7" y1="253.1" x2="106.0" y2="258.0" stroke="#a4a4a4" stroke-width="2.56" stroke-linecap="round"/>
<line x1="206.8" y1="261.8" x2="216.4" y2="262.1" stroke="#4cb8c6" stroke-width="3.20" stroke-linecap="round"/>
<line x1="216.4" y1="262.1" x2="225.9" y2="262.3" stroke="#4cb8c6" stroke-width="3.20" stroke-linecap="round"/>
<line x1="225.9" y1="262.3" x2="226.6" y2="267.4" stroke="#4cb8c6" stroke-width="3.20" stroke-linecap="round"/>
<line x1="226.6" y1="267.4" x2="227.3" y2="272.5" stroke="#d43030" stroke-width="3.20" stroke-linecap="round"/>
<line x1="225.9" y1="262.3" x2="230.0" y2="257.5" stroke="#4cb8c6" stroke-width="3.20" stroke-linecap="round"/>
<line x1="230.0" y1="257.5" x2="234.1" y2="252.7" stroke="#4a4ac4" stroke-width="3.20" stroke-linecap="round"/>
<line x1="234.1" y1="252.7" x2="232.8" y2="249.3" stroke="#4a4ac4" stroke-width="2.56" stroke-linecap="round"/>
<line x1="232.8" y1="249.3" x2="231.4" y2="245.9" stroke="#a4a4a4" stroke-width="2.56" stroke-linecap="round"/>
<line x1="234.1" y1="252.7" x2="241.6" y2="254.1" stroke="#4a4ac4" stroke-width="3.20" stroke-linecap="round"/>
<line x1="241.6" y1="254.1" x2="249.1" y2="255.5" stroke="#4cb8c6" stroke-width="3.20" stroke-linecap="round"/>
<line x1="249.1" y1="255.5" x2="255.2" y2="254.8" stroke="#4cb8c6" stroke-width="3.20" stroke-linecap="round"/>
<line x1="255.2" y1="254.8" x2="261.4" y2="254.1" stroke="#4cb8c6" stroke-width="3.20" stroke-linecap="round"/>
<line x1="261.4" y1="254.1" x2="268.9" y2="255.4" stroke="#4cb8c6" stroke-width="3.20" stroke-linecap="round"/>
<line x1="268.9" y1="255.4" x2="276.4" y2="256.8" stroke="#4cb8c6" stroke-width="3.20" stroke-linecap="round"/>
<line x1="276.4" y1="256.8" x2="283.2" y2="257.5" stroke="#4cb8c6" stroke-width="3.20" stroke-linecap="round"/>
<line x1="283.2" y1="257.5" x2="290.0" y2="258.2" stroke="#4a4ac4" stroke-width="3.20" stroke-linecap="round"/>
<line x1="249.1" y1="255.5" x2="249.1" y2="250.7" stroke="#4cb8c6" stroke-width="2.56" stroke-linecap="round"/>
<line x1="249.1" y1="250.7" x2="249.1" y2="245.9" stroke="#a4a4a4" stroke-width="2.56" stroke-linecap="round"/>
<line x1="249.1" y1="255.5" x2="249.1" y2="259.8" stroke="#4cb8c6" stroke-width="2.56" stroke-linecap="round"/>
<line x1="249.1" y1="259.8" x2="249.1" y2="264.0" stroke="#a4a4a4" stroke-width="2.56" stroke-linecap="round"/>
<line x1="261.4" y1="254.1" x2="261.4" y2="250.0" stroke="#4cb8c6" stroke-width="2.56" stroke-linecap="round"/>
<line x1="261.4" y1="250.0" x2="261.4" y2="245.9" stroke="#a4a4a4" stroke-width="2.56" stroke-linecap="round"/>
<line x1="261.4" y1="254.1" x2="261.4" y2="258.6" stroke="#4cb8c6" stroke-width="2.56" stroke-linecap="round"/>
<line x1="261.4" y1="258.6" x2="261.4" y2="263.0" stroke="#a4a4a4" stroke-width="2.56" stroke-linecap="round"/>
<line x1="276.4" y1="256.8" x2="276.4" y2="252.7" stroke="#4cb8c6" stroke-width="2.56" stroke-linecap="round"/>
<line x1="276.4" y1="252.7" x2="276.4" y2="248.6" stroke="#a4a4a4" stroke-width="2.56" stroke-linecap="round"/>
<line x1="276.4" y1="256.8" x2="276.2" y2="260.9" stroke="#4cb8c6" stroke-width="2.56" stroke-linecap="round"/>
<line x1="276.2" y1="260.9" x2="276.0" y2="265.0" stroke="#a4a4a4" stroke-width="2.56" stroke-linecap="round"/>
<line x1="290.0" y1="258.2" x2="293.4" y2="251.3" stroke="#4a4ac4" stroke-width="3.20" stroke-linecap="round"/>
<line x1="293.4" y1="251.3" x2="296.8" y2="244.5" stroke="#4cb8c6" stroke-width="3.20" stroke-linecap="round"/>
<line x1="296.8" y1="244.5" x2="305.0" y2="246.6" stroke="#4cb8c6" stroke-width="3.20" stroke-linecap="round"/>
<line x1="305.0" y1="246.6" x2="313.2" y2="248.6" stroke="#4cb8c6" stroke-width="3.20" stroke-linecap="round"/>
<line x1="313.2" y1="248.6" x2="318.6" y2="251.8" stroke="#4cb8c6" stroke-width="3.20" stroke-linecap="round"/>
<line x1="318.6" y1="251.8" x2="324.0" y2="255.0" stroke="#4a4ac4" stroke-width="3.20" stroke-linecap="round"/>
<line x1="324.0" y1="255.0" x2="320.6" y2="262.1" stroke="#4a4ac4" stroke-width="3.20" stroke-linecap="round"/>
<line x1="320.6" y1="262.1" x2="317.3" y2="269.1" stroke="#4cb8c6" stroke-width="3.20" stroke-linecap="round"/>
<line x1="317.3" y1="269.1" x2="309.1" y2="267.1" stroke="#4cb8c6" stroke-width="3.20" stroke-linecap="round"/>
<line x1="309.1" y1="267.1" x2="300.9" y2="265.0" stroke="#4cb8c6" stroke-width="3.20" stroke-linecap="round"/>
<line x1="300.9" y1="265.0" x2="295.4" y2="261.6" stroke="#4cb8c6" stroke-width="3.20" stroke-linecap="round"/>
<line x1="295.4" y1="261.6" x2="290.0" y2="258.2" stroke="#4a4ac4" stroke-width="3.20" stroke-linecap="round"/>
<line x1="296.8" y1="244.5" x2="296.1" y2="241.1" stroke="#4cb8c6" stroke-width="2.56" stroke-linecap="round"/>
<line x1="296.1" y1="241.1" x2="295.4" y2="237.7" stroke="#a4a4a4" stroke-width="2.56" stroke-linecap="round"/>
<line x1="313.2" y1="248.6" x2="315.9" y2="243.8" stroke="#4cb8c6" stroke-width="2.56" stroke-linecap="round"/>
<line x1="315.9" y1="243.8" x2="318.6" y2="239.1" stroke="#a4a4a4" stroke-width="2.56" stroke-linecap="round"/>
<line x1="317.3" y1="269.1" x2="319.6" y2="271.1" stroke="#4cb8c6" stroke-width="2.56" stroke-linecap="round"/>
<line x1="319.6" y1="271.1" x2="322.0" y2="273.0" stroke="#a4a4a4" stroke-width="2.56" stroke-linecap="round"/>
<line x1="300.9" y1="265.0" x2="299.4" y2="268.5" stroke="#4cb8c6" stroke-width="2.56" stroke-linecap="round"/>
<line x1="299.4" y1="268.5" x2="298.0" y2="272.0" stroke="#a4a4a4" stroke-width="2.56" stroke-linecap="round"/>
<line x1="313.2" y1="248.6" x2="312.6" y2="252.3" stroke="#4cb8c6" stroke-width="2.56" stroke-linecap="round"/>
<line x1="312.6" y1="252.3" x2="312.0" y2="256.0" stroke="#a4a4a4" stroke-width="2.56" stroke-linecap="round"/>
<line x1="324.0" y1="255.0" x2="333.8" y2="255.2" stroke="#4a4ac4" stroke-width="3.20" stroke-linecap="round"/>
<line x1="333.8" y1="255.2" x2="343.6" y2="255.4" stroke="#4cb8c6" stroke-width="3.20" stroke-linecap="round"/>
<line x1="343.6" y1="255.4" x2="348.1" y2="249.4" stroke="#4cb8c6" stroke-width="3.20" stroke-linecap="round"/>
<line x1="348.1" y1="249.4" x2="352.5" y2="243.5" stroke="#4cb8c6" stroke-width="3.20" stroke-linecap="round"/>
<line x1="352.5" y1="243.5" x2="364.4" y2="243.5" stroke="#4cb8c6" stroke-width="3.20" stroke-linecap="round"/>
<line x1="364.4" y1="243.5" x2="376.3" y2="243.5" stroke="#4cb8c6" stroke-width="3.20" stroke-linecap="round"/>
<line x1="376.3" y1="243.5" x2="380.1" y2="250.5" stroke="#4cb8c6" stroke-width="3.20" stroke-linecap="round"/>
<line x1="380.1" y1="250.5" x2="384.0" y2="257.5" stroke="#4cb8c6" stroke-width="3.20" stroke-linecap="round"/>
<line x1="384.0" y1="257.5" x2="379.6" y2="263.0" stroke="#4cb8c6" stroke-width="3.20" stroke-linecap="round"/>
<line x1="379.6" y1="263.0" x2="375.3" y2="268.5" stroke="#4cb8c6" stroke-width="3.20" stroke-linecap="round"/>
<line x1="375.3" y1="268.5" x2="363.3" y2="267.9" stroke="#4cb8c6" stroke-width="3.20" stroke-linecap="round"/>
<line x1="363.3" y1="267.9" x2="351.3" y2="267.4" stroke="#4cb8c6" stroke-width="3.20" stroke-linecap="round"/>
<line x1="351.3" y1="267.4" x2="347.5" y2="261.4" stroke="#4cb8c6" stroke-width="3.20" stroke-linecap="round"/>
<line x1="347.5" y1="261.4" x2="343.6" y2="255.4" stroke="#4cb8c6" stroke-width="3.20" stroke-linecap="round"/>
<line x1="352.5" y1="243.5" x2="349.2" y2="240.0" stroke="#4cb8c6" stroke-width="2.56" stroke-linecap="round"/>
<line x1="349.2" y1="240.0" x2="346.0" y2="236.5" stroke="#a4a4a4" stroke-width="2.56" stroke-linecap="round"/>
<line x1="376.3" y1="243.5" x2="379.1" y2="239.8" stroke="#4cb8c6" stroke-width="2.56" stroke-linecap="round"/>
<line x1="379.1" y1="239.8" x2="382.0" y2="236.0" stroke="#a4a4a4" stroke-width="2.56" stroke-linecap="round"/>
<line x1="384.0" y1="257.5" x2="394.4" y2="258.1" stroke="#4cb8c6" stroke-width="2.56" stroke-linecap="round"/>
<line x1="394.4" y1="258.1" x2="404.7" y2="258.6" stroke="#a4a4a4" stroke-width="2.56" stroke-linecap="round"/>
<line x1="375.3" y1="268.5" x2="379.1" y2="273.9" stroke="#4cb8c6" stroke-width="2.56" stroke-linecap="round"/>
<line x1="379.1" y1="273.9" x2="382.9" y2="279.4" stroke="#a4a4a4" stroke-width="2.56" stroke-linecap="round"/>
<line x1="351.3" y1="267.4" x2="345.9" y2="272.3" stroke="#4cb8c6" stroke-width="3.20" stroke-linecap="round"/>
<line x1="345.9" y1="272.3" x2="340.4" y2="277.2" stroke="#d43030" stroke-width="3.20" stroke-linecap="round"/>
<line x1="340.4" y1="277.2" x2="344.2" y2="283.8" stroke="#d43030" stroke-width="3.20" stroke-linecap="round"/>
<line x1="344.2" y1="283.8" x2="348.0" y2="290.3" stroke="#4cb8c6" stroke-width="3.20" stroke-linecap="round"/>
<line x1="348.0" y1="290.3" x2="340.4" y2="294.6" stroke="#4cb8c6" stroke-width="2.56" stroke-linecap="round"/>
<line x1="340.4" y1="294.6" x2="332.7" y2="299.0" stroke="#a4a4a4" stroke-width="2.56" stroke-linecap="round"/>
<line x1="348.0" y1="290.3" x2="352.9" y2="289.2" stroke="#4cb8c6" stroke-width="2.56" stroke-linecap="round"/>
<line x1="352.9" y1="289.2" x2="357.8" y2="288.1" stroke="#a4a4a4" stroke-width="2.56" stroke-linecap="round"/>
<line x1="348.0" y1="290.3" x2="351.2" y2="295.1" stroke="#4cb8c6" stroke-width="2.56" stroke-linecap="round"/>
<line x1="351.2" y1="295.1" x2="354.5" y2="300.0" stroke="#a4a4a4" stroke-width="2.56" stroke-linecap="round"/>
<line x1="163.2" y1="244.1" x2="172.1" y2="247.5" stroke="#98e2ea" stroke-width="1.28" stroke-linecap="round" opacity="0.8"/>
<line x1="172.1" y1="247.5" x2="180.9" y2="250.9" stroke="#98e2ea" stroke-width="1.28" stroke-linecap="round" opacity="0.8"/>
<line x1="180.9" y1="250.9" x2="181.6" y2="259.8" stroke="#98e2ea" stroke-width="1.28" stroke-linecap="round" opacity="0.8"/>
<line x1="181.6" y1="259.8" x2="182.3" y2="268.6" stroke="#98e2ea" stroke-width="1.28" stroke-linecap="round" opacity="0.8"/>
<line x1="182.3" y1="268.6" x2="173.4" y2="273.4" stroke="#98e2ea" stroke-width="1.28" stroke-linecap="round" opacity="0.8"/>
<line x1="173.4" y1="273.4" x2="164.5" y2="278.2" stroke="#98e2ea" stroke-width="1.28" stroke-linecap="round" opacity="0.8"/>
<line x1="164.5" y1="278.2" x2="155.7" y2="274.8" stroke="#98e2ea" stroke-width="1.28" stroke-linecap="round" opacity="0.8"/>
<line x1="155.7" y1="274.8" x2="146.8" y2="271.4" stroke="#98e2ea" stroke-width="1.28" stroke-linecap="round" opacity="0.8"/>
<line x1="146.8" y1="271.4" x2="146.2" y2="261.1" stroke="#98e2ea" stroke-width="1.28" stroke-linecap="round" opacity="0.8"/>
<line x1="146.2" y1="261.1" x2="145.5" y2="250.9" stroke="#98e2ea" stroke-width="1.28" stroke-linecap="round" opacity="0.8"/>
<line x1="145.5" y1="250.9" x2="154.3" y2="247.5" stroke="#98e2ea" stroke-width="1.28" stroke-linecap="round" opacity="0.8"/>
<line x1="154.3" y1="247.5" x2="163.2" y2="244.1" stroke="#98e2ea" stroke-width="1.28" stroke-linecap="round" opacity="0.8"/>
<line x1="180.9" y1="250.9" x2="190.4" y2="248.9" stroke="#98e2ea" stroke-width="1.28" stroke-linecap="round" opacity="0.8"/>
<line x1="190.4" y1="248.9" x2="200.0" y2="246.8" stroke="#98e2ea" stroke-width="1.28" stroke-linecap="round" opacity="0.8"/>
<line x1="200.0" y1="246.8" x2="203.4" y2="254.3" stroke="#98e2ea" stroke-width="1.28" stroke-linecap="round" opacity="0.8"/>
<line x1="203.4" y1="254.3" x2="206.8" y2="261.8" stroke="#98e2ea" stroke-width="1.28" stroke-linecap="round" opacity="0.8"/>
<line x1="206.8" y1="261.8" x2="202.1" y2="266.6" stroke="#98e2ea" stroke-width="1.28" stroke-linecap="round" opacity="0.8"/>
<line x1="202.1" y1="266.6" x2="197.3" y2="271.4" stroke="#7c7ce4" stroke-width="1.28" stroke-linecap="round" opacity="0.8"/>
<line x1="197.3" y1="271.4" x2="189.8" y2="270.0" stroke="#7c7ce4" stroke-width="1.28" stroke-linecap="round" opacity="0.8"/>
<line x1="189.8" y1="270.0" x2="182.3" y2="268.6" stroke="#98e2ea" stroke-width="1.28" stroke-linecap="round" opacity="0.8"/>
<line x1="163.2" y1="244.1" x2="163.2" y2="237.3" stroke="#98e2ea" stroke-width="1.02" stroke-linecap="round" opacity="0.8"/>
<line x1="163.2" y1="237.3" x2="163.2" y2="230.5" stroke="#eeeeee" stroke-width="1.02" stroke-linecap="round" opacity="0.8"/>
<line x1="200.0" y1="246.8" x2="202.0" y2="241.4" stroke="#98e2ea" stroke-width="1.02" stroke-linecap="round" opacity="0.8"/>
<line x1="202.0" y1="241.4" x2="204.0" y2="236.0" stroke="#eeeeee" stroke-width="1.02" stroke-linecap="round" opacity="0.8"/>
<line x1="197.3" y1="271.4" x2="199.4" y2="276.9" stroke="#7c7ce4" stroke-width="1.02" stroke-linecap="round" opacity="0.8"/>
<line x1="199.4" y1="276.9" x2="201.4" y2="282.3" stroke="#eeeeee" stroke-width="1.02" stroke-linecap="round" opacity="0.8"/>
<line x1="164.5" y1="278.2" x2="164.5" y2="284.4" stroke="#98e2ea" stroke-width="1.02" stroke-linecap="round" opacity="0.8"/>
<line x1="164.5" y1="284.4" x2="164.5" y2="290.5" stroke="#eeeeee" stroke-width="1.02" stroke-linecap="round" opacity="0.8"/>
<line x1="146.8" y1="271.4" x2="140.7" y2="274.1" stroke="#98e2ea" stroke-width="1.02" stroke-linecap="round" opacity="0.8"/>
<line x1="140.7" y1="274.1" x2="134.5" y2="276.8" stroke="#eeeeee" stroke-width="1.02" stroke-linecap="round" opacity="0.8"/>
<line x1="145.5" y1="250.9" x2="139.3" y2="246.8" stroke="#98e2ea" stroke-width="1.28" stroke-linecap="round" opacity="0.8"/>
<line x1="139.3" y1="246.8" x2="133.2" y2="242.7" stroke="#f46868" stroke-width="1.28" stroke-linecap="round" opacity="0.8"/>
<line x1="133.2" y1="242.7" x2="120.2" y2="245.4" stroke="#f46868" stroke-width="1.28" stroke-linecap="round" opacity="0.8"/>
<line x1="120.2" y1="245.4" x2="107.3" y2="248.2" stroke="#98e2ea" stroke-width="1.28" stroke-linecap="round" opacity="0.8"/>
<line x1="107.3" y1="248.2" x2="99.1" y2="243.4" stroke="#98e2ea" stroke-width="1.02" stroke-linecap="round" opacity="0.8"/>
<line x1="99.1" y1="243.4" x2="90.9" y2="238.6" stroke="#eeeeee" stroke-width="1.02" stroke-linecap="round" opacity="0.8"/>
<line x1="107.3" y1="248.2" x2="104.5" y2="252.9" stroke="#98e2ea" stroke-width="1.02" stroke-linecap="round" opacity="0.8"/>
<line x1="104.5" y1="252.9" x2="101.8" y2="257.7" stroke="#eeeeee" stroke-width="1.02" stroke-linecap="round" opacity="0.8"/>
<line x1="107.3" y1="248.2" x2="106.7" y2="253.1" stroke="#98e2ea" stroke-width="1.02" stroke-linecap="round" opacity="0.8"/>
<line x1="106.7" y1="253.1" x2="106.0" y2="258.0" stroke="#eeeeee" stroke-width="1.02" stroke-linecap="round" opacity="0.8"/>
<line x1="206.8" y1="261.8" x2="216.4" y2="262.1" stroke="#98e2ea" stroke-width="1.28" stroke-linecap="round" opacity="0.8"/>
<line x1="216.4" y1="262.1" x2="225.9" y2="262.3" stroke="#98e2ea" stroke-width="1.28" stroke-linecap="round" opacity="0.8"/>
<line x1="225.9" y1="262.3" x2="226.6" y2="267.4" stroke="#98e2ea" stroke-width="1.28" stroke-linecap="round" opacity="0.8"/>
<line x1="226.6" y1="267.4" x2="227.3" y2="272.5" stroke="#f46868" stroke-width="1.28" stroke-linecap="round" opacity="0.8"/>
<line x1="225.9" y1="262.3" x2="230.0" y2="257.5" stroke="#98e2ea" stroke-width="1.28" stroke-linecap="round" opacity="0.8"/>
<line x1="230.0" y1="257.5" x2="234.1" y2="252.7" stroke="#7c7ce4" stroke-width="1.28" stroke-linecap="round" opacity="0.8"/>
<line x1="234.1" y1="252.7" x2="232.8" y2="249.3" stroke="#7c7ce4" stroke-width="1.02" stroke-linecap="round" opacity="0.8"/>
<line x1="232.8" y1="249.3" x2="231.4" y2="245.9" stroke="#eeeeee" stroke-width="1.02" stroke-linecap="round" opacity="0.8"/>
<line x1="234.1" y1="252.7" x2="241.6" y2="254.1" stroke="#7c7ce4" stroke-width="1.28" stroke-linecap="round" opacity="0.8"/>
<line x1="241.6" y1="254.1" x2="249.1" y2="255.5" stroke="#98e2ea" stroke-width="1.28" stroke-linecap="round" opacity="0.8"/>
<line x1="249.1" y1="255.5" x2="255.2" y2="254.8" stroke="#98e2ea" stroke-width="1.28" stroke-linecap="round" opacity="0.8"/>
<line x1="255.2" y1="254.8" x2="261.4" y2="254.1" stroke="#98e2ea" stroke-width="1.28" stroke-linecap="round" opacity="0.8"/>
<line x1="261.4" y1="254.1" x2="268.9" y2="255.4" stroke="#98e2ea" stroke-width="1.28" stroke-linecap="round" opacity="0.8"/>
<line x1="268.9" y1="255.4" x2="276.4" y2="256.8" stroke="#98e2ea" stroke-width="1.28" stroke-linecap="round" opacity="0.8"/>
<line x1="276.4" y1="256.8" x2="283.2" y2="257.5" stroke="#98e2ea" stroke-width="1.28" stroke-linecap="round" opacity="0.8"/>
<line x1="283.2" y1="257.5" x2="290.0" y2="258.2" stroke="#7c7ce4" stroke-width="1.28" stroke-linecap="round" opacity="0.8"/>
<line x1="249.1" y1="255.5" x2="249.1" y2="250.7" stroke="#98e2ea" stroke-width="1.02" stroke-linecap="round" opacity="0.8"/>
<line x1="249.1" y1="250.7" x2="249.1" y2="245.9" stroke="#eeeeee" stroke-width="1.02" stroke-linecap="round" opacity="0.8"/>
<line x1="249.1" y1="255.5" x2="249.1" y2="259.8" stroke="#98e2ea" stroke-width="1.02" stroke-linecap="round" opacity="0.8"/>
<line x1="249.1" y1="259.8" x2="249.1" y2="264.0" stroke="#eeeeee" stroke-width="1.02" stroke-linecap="round" opacity="0.8"/>
<line x1="261.4" y1="254.1" x2="261.4" y2="250.0" stroke="#98e2ea" stroke-width="1.02" stroke-linecap="round" opacity="0.8"/>
<line x1="261.4" y1="250.0" x2="261.4" y2="245.9" stroke="#eeeeee" stroke-width="1.02" stroke-linecap="round" opacity="0.8"/>
<line x1="261.4" y1="254.1" x2="261.4" y2="258.6" stroke="#98e2ea" stroke-width="1.02" stroke-linecap="round" opacity="0.8"/>
<line x1="261.4" y1="258.6" x2="261.4" y2="263.0" stroke="#eeeeee" stroke-width="1.02" stroke-linecap="round" opacity="0.8"/>
<line x1="276.4" y1="256.8" x2="276.4" y2="252.7" stroke="#98e2ea" stroke-width="1.02" stroke-linecap="round" opacity="0.8"/>
<line x1="276.4" y1="252.7" x2="276.4" y2="248.6" stroke="#eeeeee" stroke-width="1.02" stroke-linecap="round" opacity="0.8"/>
<line x1="276.4" y1="256.8" x2="276.2" y2="260.9" stroke="#98e2ea" stroke-width="1.02" stroke-linecap="round" opacity="0.8"/>
<line x1="276.2" y1="260.9" x2="276.0" y2="265.0" stroke="#eeeeee" stroke-width="1.02" stroke-linecap="round" opacity="0.8"/>
<line x1="290.0" y1="258.2" x2="293.4" y2="251.3" stroke="#7c7ce4" stroke-width="1.28" stroke-linecap="round" opacity="0.8"/>
<line x1="293.4" y1="251.3" x2="296.8" y2="244.5" stroke="#98e2ea" stroke-width="1.28" stroke-linecap="round" opacity="0.8"/>
<line x1="296.8" y1="244.5" x2="305.0" y2="246.6" stroke="#98e2ea" stroke-width="1.28" stroke-linecap="round" opacity="0.8"/>
<line x1="305.0" y1="246.6" x2="313.2" y2="248.6" stroke="#98e2ea" stroke-width="1.28" stroke-linecap="round" opacity="0.8"/>
<line x1="313.2" y1="248.6" x2="318.6" y2="251.8" stroke="#98e2ea" stroke-width="1.28" stroke-linecap="round" opacity="0.8"/>
<line x1="318.6" y1="251.8" x2="324.0" y2="255.0" stroke="#7c7ce4" stroke-width="1.28" stroke-linecap="round" opacity="0.8"/>
<line x1="324.0" y1="255.0" x2="320.6" y2="262.1" stroke="#7c7ce4" stroke-width="1.28" stroke-linecap="round" opacity="0.8"/>
<line x1="320.6" y1="262.1" x2="317.3" y2="269.1" stroke="#98e2ea" stroke-width="1.28" stroke-linecap="round" opacity="0.8"/>
<line x1="317.3" y1="269.1" x2="309.1" y2="267.1" stroke="#98e2ea" stroke-width="1.28" stroke-linecap="round" opacity="0.8"/>
<line x1="309.1" y1="267.1" x2="300.9" y2="265.0" stroke="#98e2ea" stroke-width="1.28" stroke-linecap="round" opacity="0.8"/>
<line x1="300.9" y1="265.0" x2="295.4" y2="261.6" stroke="#98e2ea" stroke-width="1.28" stroke-linecap="round" opacity="0.8"/>
<line x1="295.4" y1="261.6" x2="290.0" y2="258.2" stroke="#7c7ce4" stroke-width="1.28" stroke-linecap="round" opacity="0.8"/>
<line x1="296.8" y1="244.5" x2="296.1" y2="241.1" stroke="#98e2ea" stroke-width="1.02" stroke-linecap="round" opacity="0.8"/>
<line x1="296.1" y1="241.1" x2="295.4" y2="237.7" stroke="#eeeeee" stroke-width="1.02" stroke-linecap="round" opacity="0.8"/>
<line x1="313.2" y1="248.6" x2="315.9" y2="243.8" stroke="#98e2ea" stroke-width="1.02" stroke-linecap="round" opacity="0.8"/>
<line x1="315.9" y1="243.8" x2="318.6" y2="239.1" stroke="#eeeeee" stroke-width="1.02" stroke-linecap="round" opacity="0.8"/>
<line x1="317.3" y1="269.1" x2="319.6" y2="271.1" stroke="#98e2ea" stroke-width="1.02" stroke-linecap="round" opacity="0.8"/>
<line x1="319.6" y1="271.1" x2="322.0" y2="273.0" stroke="#eeeeee" stroke-width="1.02" stroke-linecap="round" opacity="0.8"/>
<line x1="300.9" y1="265.0" x2="299.4" y2="268.5" stroke="#98e2ea" stroke-width="1.02" stroke-linecap="round" opacity="0.8"/>
<line x1="299.4" y1="268.5" x2="298.0" y2="272.0" stroke="#eeeeee" stroke-width="1.02" stroke-linecap="round" opacity="0.8"/>
<line x1="313.2" y1="248.6" x2="312.6" y2="252.3" stroke="#98e2ea" stroke-width="1.02" stroke-linecap="round" opacity="0.8"/>
<line x1="312.6" y1="252.3" x2="312.0" y2="256.0" stroke="#eeeeee" stroke-width="1.02" stroke-linecap="round" opacity="0.8"/>
<line x1="324.0" y1="255.0" x2="333.8" y2="255.2" stroke="#7c7ce4" stroke-width="1.28" stroke-linecap="round" opacity="0.8"/>
<line x1="333.8" y1="255.2" x2="343.6" y2="255.4" stroke="#98e2ea" stroke-width="1.28" stroke-linecap="round" opacity="0.8"/>
<line x1="343.6" y1="255.4" x2="348.1" y2="249.4" stroke="#98e2ea" stroke-width="1.28" stroke-linecap="round" opacity="0.8"/>
<line x1="348.1" y1="249.4" x2="352.5" y2="243.5" stroke="#98e2ea" stroke-width="1.28" stroke-linecap="round" opacity="0.8"/>
<line x1="352.5" y1="243.5" x2="364.4" y2="243.5" stroke="#98e2ea" stroke-width="1.28" stroke-linecap="round" opacity="0.8"/>
<line x1="364.4" y1="243.5" x2="376.3" y2="243.5" stroke="#98e2ea" stroke-width="1.28" stroke-linecap="round" opacity="0.8"/>
<line x1="376.3" y1="243.5" x2="380.1" y2="250.5" stroke="#98e2ea" stroke-width="1.28" stroke-linecap="round" opacity="0.8"/>
<line x1="380.1" y1="250.5" x2="384.0" y2="257.5" stroke="#98e2ea" stroke-width="1.28" stroke-linecap="round" opacity="0.8"/>
<line x1="384.0" y1="257.5" x2="379.6" y2="263.0" stroke="#98e2ea" stroke-width="1.28" stroke-linecap="round" opacity="0.8"/>
<line x1="379.6" y1="263.0" x2="375.3" y2="268.5" stroke="#98e2ea" stroke-width="1.28" stroke-linecap="round" opacity="0.8"/>
<line x1="375.3" y1="268.5" x2="363.3" y2="267.9" stroke="#98e2ea" stroke-width="1.28" stroke-linecap="round" opacity="0.8"/>
<line x1="363.3" y1="267.9" x2="351.3" y2="267.4" stroke="#98e2ea" stroke-width="1.28" stroke-linecap="round" opacity="0.8"/>
<line x1="351.3" y1="267.4" x2="347.5" y2="261.4" stroke="#98e2ea" stroke-width="1.28" stroke-linecap="round" opacity="0.8"/>
<line x1="347.5" y1="261.4" x2="343.6" y2="255.4" stroke="#98e2ea" stroke-width="1.28" stroke-linecap="round" opacity="0.8"/>
<line x1="352.5" y1="243.5" x2="349.2" y2="240.0" stroke="#98e2ea" stroke-width="1.02" stroke-linecap="round" opacity="0.8"/>
<line x1="349.2" y1="240.0" x2="346.0" y2="236.5" stroke="#eeeeee" stroke-width="1.02" stroke-linecap="round" opacity="0.8"/>
<line x1="376.3" y1="243.5" x2="379.1" y2="239.8" stroke="#98e2ea" stroke-width="1.02" stroke-linecap="round" opacity="0.8"/>
<line x1="379.1" y1="239.8" x2="382.0" y2="236.0" stroke="#eeeeee" stroke-width="1.02" stroke-linecap="round" opacity="0.8"/>
<line x1="384.0" y1="257.5" x2="394.4" y2="258.1" stroke="#98e2ea" stroke-width="1.02" stroke-linecap="round" opacity="0.8"/>
<line x1="394.4" y1="258.1" x2="404.7" y2="258.6" stroke="#eeeeee" stroke-width="1.02" stroke-linecap="round" opacity="0.8"/>
<line x1="375.3" y1="268.5" x2="379.1" y2="273.9" stroke="#98e2ea" stroke-width="1.02" stroke-linecap="round" opacity="0.8"/>
<line x1="379.1" y1="273.9" x2="382.9" y2="279.4" stroke="#eeeeee" stroke-width="1.02" stroke-linecap="round" opacity="0.8"/>
<line x1="351.3" y1="267.4" x2="345.9" y2="272.3" stroke="#98e2ea" stroke-width="1.28" stroke-linecap="round" opacity="0.8"/>
<line x1="345.9" y1="272.3" x2="340.4" y2="277.2" stroke="#f46868" stroke-width="1.28" stroke-linecap="round" opacity="0.8"/>
<line x1="340.4" y1="277.2" x2="344.2" y2="283.8" stroke="#f46868" stroke-width="1.28" stroke-linecap="round" opacity="0.8"/>
<line x1="344.2" y1="283.8" x2="348.0" y2="290.3" stroke="#98e2ea" stroke-width="1.28" stroke-linecap="round" opacity="0.8"/>
<line x1="348.0" y1="290.3" x2="340.4" y2="294.6" stroke="#98e2ea" stroke-width="1.02" stroke-linecap="round" opacity="0.8"/>
<line x1="340.4" y1="294.6" x2="332.7" y2="299.0" stroke="#eeeeee" stroke-width="1.02" stroke-linecap="round" opacity="0.8"/>
<line x1="348.0" y1="290.3" x2="352.9" y2="289.2" stroke="#98e2ea" stroke-width="1.02" stroke-linecap="round" opacity="0.8"/>
<line x1="352.9" y1="289.2" x2="357.8" y2="288.1" stroke="#eeeeee" stroke-width="1.02" stroke-linecap="round" opacity="0.8"/>
<line x1="348.0" y1="290.3" x2="351.2" y2="295.1" stroke="#98e2ea" stroke-width="1.02" stroke-linecap="round" opacity="0.8"/>
<line x1="351.2" y1="295.1" x2="354.5" y2="300.0" stroke="#eeeeee" stroke-width="1.02" stroke-linecap="round" opacity="0.8"/>
<line x1="135.5" y1="441.5" x2="142.8" y2="440.0" stroke="#4cb8c6" stroke-width="3.20" stroke-linecap="round"/>
<line x1="142.8" y1="440.0" x2="150.0" y2="438.5" stroke="#4cb8c6" stroke-width="3.20" stroke-linecap="round"/>
<line x1="150.0" y1="438.5" x2="161.0" y2="441.2" stroke="#4cb8c6" stroke-width="3.20" stroke-linecap="round"/>
<line x1="161.0" y1="441.2" x2="172.0" y2="444.0" stroke="#4cb8c6" stroke-width="3.20" stroke-linecap="round"/>
<line x1="172.0" y1="444.0" x2="175.5" y2="448.0" stroke="#4cb8c6" stroke-width="3.20" stroke-linecap="round"/>
<line x1="175.5" y1="448.0" x2="179.0" y2="452.0" stroke="#4cb8c6" stroke-width="3.20" stroke-linecap="round"/>
<line x1="179.0" y1="452.0" x2="172.5" y2="452.8" stroke="#4cb8c6" stroke-width="3.20" stroke-linecap="round"/>
<line x1="172.5" y1="452.8" x2="166.0" y2="453.5" stroke="#4cb8c6" stroke-width="3.20" stroke-linecap="round"/>
<line x1="166.0" y1="453.5" x2="151.8" y2="450.2" stroke="#4cb8c6" stroke-width="3.20" stroke-linecap="round"/>
<line x1="151.8" y1="450.2" x2="137.5" y2="447.0" stroke="#4cb8c6" stroke-width="3.20" stroke-linecap="round"/>
<line x1="137.5" y1="447.0" x2="136.5" y2="444.2" stroke="#4cb8c6" stroke-width="3.20" stroke-linecap="round"/>
<line x1="136.5" y1="444.2" x2="135.5" y2="441.5" stroke="#4cb8c6" stroke-width="3.20" stroke-linecap="round"/>
<line x1="135.5" y1="441.5" x2="128.5" y2="439.8" stroke="#4cb8c6" stroke-width="2.56" stroke-linecap="round"/>
<line x1="128.5" y1="439.8" x2="121.5" y2="438.0" stroke="#a4a4a4" stroke-width="2.56" stroke-linecap="round"/>
<line x1="137.5" y1="447.0" x2="133.2" y2="448.8" stroke="#4cb8c6" stroke-width="2.56" stroke-linecap="round"/>
<line x1="133.2" y1="448.8" x2="129.0" y2="450.5" stroke="#a4a4a4" stroke-width="2.56" stroke-linecap="round"/>
<line x1="172.0" y1="444.0" x2="176.5" y2="443.5" stroke="#4cb8c6" stroke-width="2.56" stroke-linecap="round"/>
<line x1="176.5" y1="443.5" x2="181.0" y2="443.0" stroke="#a4a4a4" stroke-width="2.56" stroke-linecap="round"/>
<line x1="150.0" y1="438.5" x2="149.5" y2="435.8" stroke="#4cb8c6" stroke-width="2.56" stroke-linecap="round"/>
<line x1="149.5" y1="435.8" x2="149.0" y2="433.0" stroke="#a4a4a4" stroke-width="2.56" stroke-linecap="round"/>
<line x1="179.0" y1="452.0" x2="183.0" y2="452.8" stroke="#4cb8c6" stroke-width="3.20" stroke-linecap="round"/>
<line x1="183.0" y1="452.8" x2="187.0" y2="453.5" stroke="#4a4ac4" stroke-width="3.20" stroke-linecap="round"/>
<line x1="187.0" y1="453.5" x2="189.5" y2="456.2" stroke="#4a4ac4" stroke-width="3.20" stroke-linecap="round"/>
<line x1="189.5" y1="456.2" x2="192.0" y2="459.0" stroke="#4cb8c6" stroke-width="3.20" stroke-linecap="round"/>
<line x1="192.0" y1="459.0" x2="183.0" y2="461.0" stroke="#4cb8c6" stroke-width="3.20" stroke-linecap="round"/>
<line x1="183.0" y1="461.0" x2="174.0" y2="463.0" stroke="#4cb8c6" stroke-width="3.20" stroke-linecap="round"/>
<line x1="174.0" y1="463.0" x2="170.0" y2="458.2" stroke="#4cb8c6" stroke-width="3.20" stroke-linecap="round"/>
<line x1="170.0" y1="458.2" x2="166.0" y2="453.5" stroke="#4cb8c6" stroke-width="3.20" stroke-linecap="round"/>
<line x1="174.0" y1="463.0" x2="170.5" y2="464.5" stroke="#4cb8c6" stroke-width="2.56" stroke-linecap="round"/>
<line x1="170.5" y1="464.5" x2="167.0" y2="466.0" stroke="#a4a4a4" stroke-width="2.56" stroke-linecap="round"/>
<line x1="192.0" y1="459.0" x2="198.0" y2="462.8" stroke="#4cb8c6" stroke-width="3.20" stroke-linecap="round"/>
<line x1="198.0" y1="462.8" x2="204.0" y2="466.5" stroke="#4cb8c6" stroke-width="3.20" stroke-linecap="round"/>
<line x1="204.0" y1="466.5" x2="211.5" y2="465.8" stroke="#4cb8c6" stroke-width="3.20" stroke-linecap="round"/>
<line x1="211.5" y1="465.8" x2="219.0" y2="465.0" stroke="#d43030" stroke-width="3.20" stroke-linecap="round"/>
<line x1="204.0" y1="466.5" x2="207.5" y2="470.5" stroke="#4cb8c6" stroke-width="3.20" stroke-linecap="round"/>
<line x1="207.5" y1="470.5" x2="211.0" y2="474.5" stroke="#4a4ac4" stroke-width="3.20" stroke-linecap="round"/>
<line x1="211.0" y1="474.5" x2="207.0" y2="472.8" stroke="#4a4ac4" stroke-width="2.56" stroke-linecap="round"/>
<line x1="207.0" y1="472.8" x2="203.0" y2="471.0" stroke="#a4a4a4" stroke-width="2.56" stroke-linecap="round"/>
<line x1="211.0" y1="474.5" x2="220.8" y2="478.4" stroke="#4a4ac4" stroke-width="3.20" stroke-linecap="round"/>
<line x1="220.8" y1="478.4" x2="230.5" y2="482.4" stroke="#4cb8c6" stroke-width="3.20" stroke-linecap="round"/>
<line x1="230.5" y1="482.4" x2="237.6" y2="474.2" stroke="#4cb8c6" stroke-width="3.20" stroke-linecap="round"/>
<line x1="237.6" y1="474.2" x2="244.7" y2="466.0" stroke="#4cb8c6" stroke-width="3.20" stroke-linecap="round"/>
<line x1="244.7" y1="466.0" x2="254.0" y2="470.9" stroke="#4cb8c6" stroke-width="3.20" stroke-linecap="round"/>
<line x1="254.0" y1="470.9" x2="263.3" y2="475.8" stroke="#4cb8c6" stroke-width="3.20" stroke-linecap="round"/>
<line x1="263.3" y1="475.8" x2="270.1" y2="467.9" stroke="#4cb8c6" stroke-width="3.20" stroke-linecap="round"/>
<line x1="270.1" y1="467.9" x2="277.0" y2="460.0" stroke="#4a4ac4" stroke-width="3.20" stroke-linecap="round"/>
<line x1="230.5" y1="482.4" x2="230.0" y2="486.2" stroke="#4cb8c6" stroke-width="2.56" stroke-linecap="round"/>
<line x1="230.0" y1="486.2" x2="229.5" y2="490.0" stroke="#a4a4a4" stroke-width="2.56" stroke-linecap="round"/>
<line x1="244.7" y1="466.0" x2="244.7" y2="462.2" stroke="#4cb8c6" stroke-width="2.56" stroke-linecap="round"/>
<line x1="244.7" y1="462.2" x2="244.7" y2="458.4" stroke="#a4a4a4" stroke-width="2.56" stroke-linecap="round"/>
<line x1="263.3" y1="475.8" x2="263.9" y2="481.8" stroke="#4cb8c6" stroke-width="2.56" stroke-linecap="round"/>
<line x1="263.9" y1="481.8" x2="264.4" y2="487.8" stroke="#a4a4a4" stroke-width="2.56" stroke-linecap="round"/>
<line x1="277.0" y1="460.0" x2="280.5" y2="463.5" stroke="#4a4ac4" stroke-width="3.20" stroke-linecap="round"/>
<line x1="280.5" y1="463.5" x2="284.0" y2="467.0" stroke="#4cb8c6" stroke-width="3.20" stroke-linecap="round"/>
<line x1="284.0" y1="467.0" x2="290.0" y2="453.8" stroke="#4cb8c6" stroke-width="3.20" stroke-linecap="round"/>
<line x1="290.0" y1="453.8" x2="296.0" y2="440.5" stroke="#4cb8c6" stroke-width="3.20" stroke-linecap="round"/>
<line x1="296.0" y1="440.5" x2="304.4" y2="444.4" stroke="#4cb8c6" stroke-width="3.20" stroke-linecap="round"/>
<line x1="304.4" y1="444.4" x2="312.7" y2="448.2" stroke="#4a4ac4" stroke-width="3.20" stroke-linecap="round"/>
<line x1="312.7" y1="448.2" x2="309.9" y2="452.6" stroke="#4a4ac4" stroke-width="3.20" stroke-linecap="round"/>
<line x1="309.9" y1="452.6" x2="307.0" y2="457.0" stroke="#4cb8c6" stroke-width="3.20" stroke-linecap="round"/>
<line x1="307.0" y1="457.0" x2="300.5" y2="463.5" stroke="#4cb8c6" stroke-width="3.20" stroke-linecap="round"/>
<line x1="300.5" y1="463.5" x2="294.0" y2="470.0" stroke="#4cb8c6" stroke-width="3.20" stroke-linecap="round"/>
<line x1="294.0" y1="470.0" x2="285.5" y2="465.0" stroke="#4cb8c6" stroke-width="3.20" stroke-linecap="round"/>
<line x1="285.5" y1="465.0" x2="277.0" y2="460.0" stroke="#4a4ac4" stroke-width="3.20" stroke-linecap="round"/>
<line x1="296.0" y1="440.5" x2="293.8" y2="436.9" stroke="#4cb8c6" stroke-width="2.56" stroke-linecap="round"/>
<line x1="293.8" y1="436.9" x2="291.6" y2="433.3" stroke="#a4a4a4" stroke-width="2.56" stroke-linecap="round"/>
<line x1="284.0" y1="467.0" x2="283.5" y2="465.9" stroke="#4cb8c6" stroke-width="2.56" stroke-linecap="round"/>
<line x1="283.5" y1="465.9" x2="283.0" y2="464.9" stroke="#a4a4a4" stroke-width="2.56" stroke-linecap="round"/>
<line x1="294.0" y1="470.0" x2="296.6" y2="475.6" stroke="#4cb8c6" stroke-width="2.56" stroke-linecap="round"/>
<line x1="296.6" y1="475.6" x2="299.3" y2="481.3" stroke="#a4a4a4" stroke-width="2.56" stroke-linecap="round"/>
<line x1="284.0" y1="467.0" x2="274.8" y2="459.4" stroke="#4cb8c6" stroke-width="2.56" stroke-linecap="round"/>
<line x1="274.8" y1="459.4" x2="265.5" y2="451.8" stroke="#a4a4a4" stroke-width="2.56" stroke-linecap="round"/>
<line x1="307.0" y1="457.0" x2="311.5" y2="458.0" stroke="#4cb8c6" stroke-width="2.56" stroke-linecap="round"/>
<line x1="311.5" y1="458.0" x2="316.0" y2="459.0" stroke="#a4a4a4" stroke-width="2.56" stroke-linecap="round"/>
<line x1="312.7" y1="448.2" x2="322.2" y2="442.8" stroke="#4a4ac4" stroke-width="3.20" stroke-linecap="round"/>
<line x1="322.2" y1="442.8" x2="331.8" y2="437.3" stroke="#4cb8c6" stroke-width="3.20" stroke-linecap="round"/>
<line x1="331.8" y1="437.3" x2="331.4" y2="428.2" stroke="#4cb8c6" stroke-width="3.20" stroke-linecap="round"/>
<line x1="331.4" y1="428.2" x2="330.9" y2="419.1" stroke="#4cb8c6" stroke-width="3.20" stroke-linecap="round"/>
<line x1="330.9" y1="419.1" x2="340.0" y2="413.2" stroke="#4cb8c6" stroke-width="3.20" stroke-linecap="round"/>
<line x1="340.0" y1="413.2" x2="349.1" y2="407.3" stroke="#4cb8c6" stroke-width="3.20" stroke-linecap="round"/>
<line x1="349.1" y1="407.3" x2="360.0" y2="410.0" stroke="#4cb8c6" stroke-width="3.20" stroke-linecap="round"/>
<line x1="360.0" y1="410.0" x2="370.9" y2="412.7" stroke="#4cb8c6" stroke-width="3.20" stroke-linecap="round"/>
<line x1="370.9" y1="412.7" x2="372.2" y2="421.8" stroke="#4cb8c6" stroke-width="3.20" stroke-linecap="round"/>
<line x1="372.2" y1="421.8" x2="373.6" y2="430.9" stroke="#4cb8c6" stroke-width="3.20" stroke-linecap="round"/>
<line x1="373.6" y1="430.9" x2="363.1" y2="436.8" stroke="#4cb8c6" stroke-width="3.20" stroke-linecap="round"/>
<line x1="363.1" y1="436.8" x2="352.7" y2="442.7" stroke="#4cb8c6" stroke-width="3.20" stroke-linecap="round"/>
<line x1="352.7" y1="442.7" x2="342.2" y2="440.0" stroke="#4cb8c6" stroke-width="3.20" stroke-linecap="round"/>
<line x1="342.2" y1="440.0" x2="331.8" y2="437.3" stroke="#4cb8c6" stroke-width="3.20" stroke-linecap="round"/>
<line x1="349.1" y1="407.3" x2="348.6" y2="402.3" stroke="#4cb8c6" stroke-width="2.56" stroke-linecap="round"/>
<line x1="348.6" y1="402.3" x2="348.2" y2="397.3" stroke="#a4a4a4" stroke-width="2.56" stroke-linecap="round"/>
<line x1="370.9" y1="412.7" x2="378.2" y2="408.1" stroke="#4cb8c6" stroke-width="2.56" stroke-linecap="round"/>
<line x1="378.2" y1="408.1" x2="385.5" y2="403.6" stroke="#a4a4a4" stroke-width="2.56" stroke-linecap="round"/>
<line x1="373.6" y1="430.9" x2="383.6" y2="433.6" stroke="#4cb8c6" stroke-width="2.56" stroke-linecap="round"/>
<line x1="383.6" y1="433.6" x2="393.6" y2="436.4" stroke="#a4a4a4" stroke-width="2.56" stroke-linecap="round"/>
<line x1="352.7" y1="442.7" x2="352.7" y2="449.5" stroke="#4cb8c6" stroke-width="2.56" stroke-linecap="round"/>
<line x1="352.7" y1="449.5" x2="352.7" y2="456.4" stroke="#a4a4a4" stroke-width="2.56" stroke-linecap="round"/>
<line x1="330.9" y1="419.1" x2="323.6" y2="417.8" stroke="#4cb8c6" stroke-width="3.20" stroke-linecap="round"/>
<line x1="323.6" y1="417.8" x2="316.4" y2="416.4" stroke="#d43030" stroke-width="3.20" stroke-linecap="round"/>
<line x1="316.4" y1="416.4" x2="315.9" y2="410.0" stroke="#d43030" stroke-width="3.20" stroke-linecap="round"/>
<line x1="315.9" y1="410.0" x2="315.5" y2="403.6" stroke="#4cb8c6" stroke-width="3.20" stroke-linecap="round"/>
<line x1="315.5" y1="403.6" x2="307.8" y2="403.6" stroke="#4cb8c6" stroke-width="2.56" stroke-linecap="round"/>
<line x1="307.8" y1="403.6" x2="300.0" y2="403.6" stroke="#a4a4a4" stroke-width="2.56" stroke-linecap="round"/>
<line x1="315.5" y1="403.6" x2="315.5" y2="397.3" stroke="#4cb8c6" stroke-width="2.56" stroke-linecap="round"/>
<line x1="315.5" y1="397.3" x2="315.5" y2="391.0" stroke="#a4a4a4" stroke-width="2.56" stroke-linecap="round"/>
<line x1="315.5" y1="403.6" x2="319.6" y2="404.1" stroke="#4cb8c6" stroke-width="2.56" stroke-linecap="round"/>
<line x1="319.6" y1="404.1" x2="323.6" y2="404.5" stroke="#a4a4a4" stroke-width="2.56" stroke-linecap="round"/>
<line x1="135.5" y1="441.5" x2="142.8" y2="440.0" stroke="#98e2ea" stroke-width="1.28" stroke-linecap="round" opacity="0.8"/>
<line x1="142.8" y1="440.0" x2="150.0" y2="438.5" stroke="#98e2ea" stroke-width="1.28" stroke-linecap="round" opacity="0.8"/>
<line x1="150.0" y1="438.5" x2="161.0" y2="441.2" stroke="#98e2ea" stroke-width="1.28" stroke-linecap="round" opacity="0.8"/>
<line x1="161.0" y1="441.2" x2="172.0" y2="444.0" stroke="#98e2ea" stroke-width="1.28" stroke-linecap="round" opacity="0.8"/>
<line x1="172.0" y1="444.0" x2="175.5" y2="448.0" stroke="#98e2ea" stroke-width="1.28" stroke-linecap="round" opacity="0.8"/>
<line x1="175.5" y1="448.0" x2="179.0" y2="452.0" stroke="#98e2ea" stroke-width="1.28" stroke-linecap="round" opacity="0.8"/>
<line x1="179.0" y1="452.0" x2="172.5" y2="452.8" stroke="#98e2ea" stroke-width="1.28" stroke-linecap="round" opacity="0.8"/>
<line x1="172.5" y1="452.8" x2="166.0" y2="453.5" stroke="#98e2ea" stroke-width="1.28" stroke-linecap="round" opacity="0.8"/>
<line x1="166.0" y1="453.5" x2="151.8" y2="450.2" stroke="#98e2ea" stroke-width="1.28" stroke-linecap="round" opacity="0.8"/>
<line x1="151.8" y1="450.2" x2="137.5" y2="447.0" stroke="#98e2ea" stroke-width="1.28" stroke-linecap="round" opacity="0.8"/>
<line x1="137.5" y1="447.0" x2="136.5" y2="444.2" stroke="#98e2ea" stroke-width="1.28" stroke-linecap="round" opacity="0.8"/>
<line x1="136.5" y1="444.2" x2="135.5" y2="441.5" stroke="#98e2ea" stroke-width="1.28" stroke-linecap="round" opacity="0.8"/>
<line x1="135.5" y1="441.5" x2="128.5" y2="439.8" stroke="#98e2ea" stroke-width="1.02" stroke-linecap="round" opacity="0.8"/>
<line x1="128.5" y1="439.8" x2="121.5" y2="438.0" stroke="#eeeeee" stroke-width="1.02" stroke-linecap="round" opacity="0.8"/>
<line x1="137.5" y1="447.0" x2="133.2" y2="448.8" stroke="#98e2ea" stroke-width="1.02" stroke-linecap="round" opacity="0.8"/>
<line x1="133.2" y1="448.8" x2="129.0" y2="450.5" stroke="#eeeeee" stroke-width="1.02" stroke-linecap="round" opacity="0.8"/>
<line x1="172.0" y1="444.0" x2="176.5" y2="443.5" stroke="#98e2ea" stroke-width="1.02" stroke-linecap="round" opacity="0.8"/>
<line x1="176.5" y1="443.5" x2="181.0" y2="443.0" stroke="#eeeeee" stroke-width="1.02" stroke-linecap="round" opacity="0.8"/>
<line x1="150.0" y1="438.5" x2="149.5" y2="435.8" stroke="#98e2ea" stroke-width="1.02" stroke-linecap="round" opacity="0.8"/>
<line x1="149.5" y1="435.8" x2="149.0" y2="433.0" stroke="#eeeeee" stroke-width="1.02" stroke-linecap="round" opacity="0.8"/>
<line x1="179.0" y1="452.0" x2="183.0" y2="452.8" stroke="#98e2ea" stroke-width="1.28" stroke-linecap="round" opacity="0.8"/>
<line x1="183.0" y1="452.8" x2="187.0" y2="453.5" stroke="#7c7ce4" stroke-width="1.28" stroke-linecap="round" opacity="0.8"/>
<line x1="187.0" y1="453.5" x2="189.5" y2="456.2" stroke="#7c7ce4" stroke-width="1.28" stroke-linecap="round" opacity="0.8"/>
<line x1="189.5" y1="456.2" x2="192.0" y2="459.0" stroke="#98e2ea" stroke-width="1.28" stroke-linecap="round" opacity="0.8"/>
<line x1="192.0" y1="459.0" x2="183.0" y2="461.0" stroke="#98e2ea" stroke-width="1.28" stroke-linecap="round" opacity="0.8"/>
<line x1="183.0" y1="461.0" x2="174.0" y2="463.0" stroke="#98e2ea" stroke-width="1.28" stroke-linecap="round" opacity="0.8"/>
<line x1="174.0" y1="463.0" x2="170.0" y2="458.2" stroke="#98e2ea" stroke-width="1.28" stroke-linecap="round" opacity="0.8"/>
<line x1="170.0" y1="458.2" x2="166.0" y2="453.5" stroke="#98e2ea" stroke-width="1.28" stroke-linecap="round" opacity="0.8"/>
<line x1="174.0" y1="463.0" x2="170.5" y2="464.5" stroke="#98e2ea" stroke-width="1.02" stroke-linecap="round" opacity="0.8"/>
<line x1="170.5" y1="464.5" x2="167.0" y2="466.0" stroke="#eeeeee" stroke-width="1.02" stroke-linecap="round" opacity="0.8"/>
<line x1="192.0" y1="459.0" x2="198.0" y2="462.8" stroke="#98e2ea" stroke-width="1.28" stroke-linecap="round" opacity="0.8"/>
<line x1="198.0" y1="462.8" x2="204.0" y2="466.5" stroke="#98e2ea" stroke-width="1.28" stroke-linecap="round" opacity="0.8"/>
<line x1="204.0" y1="466.5" x2="211.5" y2="465.8" stroke="#98e2ea" stroke-width="1.28" stroke-linecap="round" opacity="0.8"/>
<line x1="211.5" y1="465.8" x2="219.0" y2="465.0" stroke="#f46868" stroke-width="1.28" stroke-linecap="round" opacity="0.8"/>
<line x1="204.0" y1="466.5" x2="207.5" y2="470.5" stroke="#98e2ea" stroke-width="1.28" stroke-linecap="round" opacity="0.8"/>
<line x1="207.5" y1="470.5" x2="211.0" y2="474.5" stroke="#7c7ce4" stroke-width="1.28" stroke-linecap="round" opacity="0.8"/>
<line x1="211.0" y1="474.5" x2="207.0" y2="472.8" stroke="#7c7ce4" stroke-width="1.02" stroke-linecap="round" opacity="0.8"/>
<line x1="207.0" y1="472.8" x2="203.0" y2="471.0" stroke="#eeeeee" stroke-width="1.02" stroke-linecap="round" opacity="0.8"/>
<line x1="211.0" y1="474.5" x2="220.8" y2="478.4" stroke="#7c7ce4" stroke-width="1.28" stroke-linecap="round" opacity="0.8"/>
<line x1="220.8" y1="478.4" x2="230.5" y2="482.4" stroke="#98e2ea" stroke-width="1.28" stroke-linecap="round" opacity="0.8"/>
<line x1="230.5" y1="482.4" x2="237.6" y2="474.2" stroke="#98e2ea" stroke-width="1.28" stroke-linecap="round" opacity="0.8"/>
<line x1="237.6" y1="474.2" x2="244.7" y2="466.0" stroke="#98e2ea" stroke-width="1.28" stroke-linecap="round" opacity="0.8"/>
<line x1="244.7" y1="466.0" x2="254.0" y2="470.9" stroke="#98e2ea" stroke-width="1.28" stroke-linecap="round" opacity="0.8"/>
<line x1="254.0" y1="470.9" x2="263.3" y2="475.8" stroke="#98e2ea" stroke-width="1.28" stroke-linecap="round" opacity="0.8"/>
<line x1="263.3" y1="475.8" x2="270.1" y2="467.9" stroke="#98e2ea" stroke-width="1.28" stroke-linecap="round" opacity="0.8"/>
<line x1="270.1" y1="467.9" x2="277.0" y2="460.0" stroke="#7c7ce4" stroke-width="1.28" stroke-linecap="round" opacity="0.8"/>
<line x1="230.5" y1="482.4" x2="230.0" y2="486.2" stroke="#98e2ea" stroke-width="1.02" stroke-linecap="round" opacity="0.8"/>
<line x1="230.0" y1="486.2" x2="229.5" y2="490.0" stroke="#eeeeee" stroke-width="1.02" stroke-linecap="round" opacity="0.8"/>
<line x1="244.7" y1="466.0" x2="244.7" y2="462.2" stroke="#98e2ea" stroke-width="1.02" stroke-linecap="round" opacity="0.8"/>
<line x1="244.7" y1="462.2" x2="244.7" y2="458.4" stroke="#eeeeee" stroke-width="1.02" stroke-linecap="round" opacity="0.8"/>
<line x1="263.3" y1="475.8" x2="263.9" y2="481.8" stroke="#98e2ea" stroke-width="1.02" stroke-linecap="round" opacity="0.8"/>
<line x1="263.9" y1="481.8" x2="264.4" y2="487.8" stroke="#eeeeee" stroke-width="1.02" stroke-linecap="round" opacity="0.8"/>
<line x1="277.0" y1="460.0" x2="280.5" y2="463.5" stroke="#7c7ce4" stroke-width="1.28" stroke-linecap="round" opacity="0.8"/>
<line x1="280.5" y1="463.5" x2="284.0" y2="467.0" stroke="#98e2ea" stroke-width="1.28" stroke-linecap="round" opacity="0.8"/>
<line x1="284.0" y1="467.0" x2="290.0" y2="453.8" stroke="#98e2ea" stroke-width="1.28" stroke-linecap="round" opacity="0.8"/>
<line x1="290.0" y1="453.8" x2="296.0" y2="440.5" stroke="#98e2ea" stroke-width="1.28" stroke-linecap="round" opacity="0.8"/>
<line x1="296.0" y1="440.5" x2="304.4" y2="444.4" stroke="#98e2ea" stroke-width="1.28" stroke-linecap="round" opacity="0.8"/>
<line x1="304.4" y1="444.4" x2="312.7" y2="448.2" stroke="#7c7ce4" stroke-width="1.28" stroke-linecap="round" opacity="0.8"/>
<line x1="312.7" y1="448.2" x2="309.9" y2="452.6" stroke="#7c7ce4" stroke-width="1.28" stroke-linecap="round" opacity="0.8"/>
<line x1="309.9" y1="452.6" x2="307.0" y2="457.0" stroke="#98e2ea" stroke-width="1.28" stroke-linecap="round" opacity="0.8"/>
<line x1="307.0" y1="457.0" x2="300.5" y2="463.5" stroke="#98e2ea" stroke-width="1.28" stroke-linecap="round" opacity="0.8"/>
<line x1="300.5" y1="463.5" x2="294.0" y2="470.0" stroke="#98e2ea" stroke-width="1.28" stroke-linecap="round" opacity="0.8"/>
<line x1="294.0" y1="470.0" x2="285.5" y2="465.0" stroke="#98e2ea" stroke-width="1.28" stroke-linecap="round" opacity="0.8"/>
<line x1="285.5" y1="465.0" x2="277.0" y2="460.0" stroke="#7c7ce4" stroke-width="1.28" stroke-linecap="round" opacity="0.8"/>
<line x1="296.0" y1="440.5" x2="293.8" y2="436.9" stroke="#98e2ea" stroke-width="1.02" stroke-linecap="round" opacity="0.8"/>
<line x1="293.8" y1="436.9" x2="291.6" y2="433.3" stroke="#eeeeee" stroke-width="1.02" stroke-linecap="round" opacity="0.8"/>
<line x1="284.0" y1="467.0" x2="283.5" y2="465.9" stroke="#98e2ea" stroke-width="1.02" stroke-linecap="round" opacity="0.8"/>
<line x1="283.5" y1="465.9" x2="283.0" y2="464.9" stroke="#eeeeee" stroke-width="1.02" stroke-linecap="round" opacity="0.8"/>
<line x1="294.0" y1="470.0" x2="296.6" y2="475.6" stroke="#98e2ea" stroke-width="1.02" stroke-linecap="round" opacity="0.8"/>
<line x1="296.6" y1="475.6" x2="299.3" y2="481.3" stroke="#eeeeee" stroke-width="1.02" stroke-linecap="round" opacity="0.8"/>
<line x1="284.0" y1="467.0" x2="274.8" y2="459.4" stroke="#98e2ea" stroke-width="1.02" stroke-linecap="round" opacity="0.8"/>
<line x1="274.8" y1="459.4" x2="265.5" y2="451.8" stroke="#eeeeee" stroke-width="1.02" stroke-linecap="round" opacity="0.8"/>
<line x1="307.0" y1="457.0" x2="311.5" y2="458.0" stroke="#98e2ea" stroke-width="1.02" stroke-linecap="round" opacity="0.8"/>
<line x1="311.5" y1="458.0" x2="316.0" y2="459.0" stroke="#eeeeee" stroke-width="1.02" stroke-linecap="round" opacity="0.8"/>
<line x1="312.7" y1="448.2" x2="322.2" y2="442.8" stroke="#7c7ce4" stroke-width="1.28" stroke-linecap="round" opacity="0.8"/>
<line x1="322.2" y1="442.8" x2="331.8" y2="437.3" stroke="#98e2ea" stroke-width="1.28" stroke-linecap="round" opacity="0.8"/>
<line x1="331.8" y1="437.3" x2="331.4" y2="428.2" stroke="#98e2ea" stroke-width="1.28" stroke-linecap="round" opacity="0.8"/>
<line x1="331.4" y1="428.2" x2="330.9" y2="419.1" stroke="#98e2ea" stroke-width="1.28" stroke-linecap="round" opacity="0.8"/>
<line x1="330.9" y1="419.1" x2="340.0" y2="413.2" stroke="#98e2ea" stroke-width="1.28" stroke-linecap="round" opacity="0.8"/>
<line x1="340.0" y1="413.2" x2="349.1" y2="407.3" stroke="#98e2ea" stroke-width="1.28" stroke-linecap="round" opacity="0.8"/>
<line x1="349.1" y1="407.3" x2="360.0" y2="410.0" stroke="#98e2ea" stroke-width="1.28" stroke-linecap="round" opacity="0.8"/>
<line x1="360.0" y1="410.0" x2="370.9" y2="412.7" stroke="#98e2ea" stroke-width="1.28" stroke-linecap="round" opacity="0.8"/>
<line x1="370.9" y1="412.7" x2="372.2" y2="421.8" stroke="#98e2ea" stroke-width="1.28" stroke-linecap="round" opacity="0.8"/>
<line x1="372.2" y1="421.8" x2="373.6" y2="430.9" stroke="#98e2ea" stroke-width="1.28" stroke-linecap="round" opacity="0.8"/>
<line x1="373.6" y1="430.9" x2="363.1" y2="436.8" stroke="#98e2ea" stroke-width="1.28" stroke-linecap="round" opacity="0.8"/>
<line x1="363.1" y1="436.8" x2="352.7" y2="442.7" stroke="#98e2ea" stroke-width="1.28" stroke-linecap="round" opacity="0.8"/>
<line x1="352.7" y1="442.7" x2="342.2" y2="440.0" stroke="#98e2ea" stroke-width="1.28" stroke-linecap="round" opacity="0.8"/>
<line x1="342.2" y1="440.0" x2="331.8" y2="437.3" stroke="#98e2ea" stroke-width="1.28" stroke-linecap="round" opacity="0.8"/>
<line x1="349.1" y1="407.3" x2="348.6" y2="402.3" stroke="#98e2ea" stroke-width="1.02" stroke-linecap="round" opacity="0.8"/>
<line x1="348.6" y1="402.3" x2="348.2" y2="397.3" stroke="#eeeeee" stroke-width="1.02" stroke-linecap="round" opacity="0.8"/>
<line x1="370.9" y1="412.7" x2="378.2" y2="408.1" stroke="#98e2ea" stroke-width="1.02" stroke-linecap="round" opacity="0.8"/>
<line x1="378.2" y1="408.1" x2="385.5" y2="403.6" stroke="#eeeeee" stroke-width="1.02" stroke-linecap="round" opacity="0.8"/>
<line x1="373.6" y1="430.9" x2="383.6" y2="433.6" stroke="#98e2ea" stroke-width="1.02" stroke-linecap="round" opacity="0.8"/>
<line x1="383.6" y1="433.6" x2="393.6" y2="436.4" stroke="#eeeeee" stroke-width="1.02" stroke-linecap="round" opacity="0.8"/>
<line x1="352.7" y1="442.7" x2="352.7" y2="449.5" stroke="#98e2ea" stroke-width="1.02" stroke-linecap="round" opacity="0.8"/>
<line x1="352.7" y1="449.5" x2="352.7" y2="456.4" stroke="#eeeeee" stroke-width="1.02" stroke-linecap="round" opacity="0.8"/>
<line x1="330.9" y1="419.1" x2="323.6" y2="417.8" stroke="#98e2ea" stroke-width="1.28" stroke-linecap="round" opacity="0.8"/>
<line x1="323.6" y1="417.8" x2="316.4" y2="416.4" stroke="#f46868" stroke-width="1.28" stroke-linecap="round" opacity="0.8"/>
<line x1="316.4" y1="416.4" x2="315.9" y2="410.0" stroke="#f46868" stroke-width="1.28" stroke-linecap="round" opacity="0.8"/>
<line x1="315.9" y1="410.0" x2="315.5" y2="403.6" stroke="#98e2ea" stroke-width="1.28" stroke-linecap="round" opacity="0.8"/>
<line x1="315.5" y1="403.6" x2="307.8" y2="403.6" stroke="#98e2ea" stroke-width="1.02" stroke-linecap="round" opacity="0.8"/>
<line x1="307.8" y1="403.6" x2="300.0" y2="403.6" stroke="#eeeeee" stroke-width="1.02" stroke-linecap="round" opacity="0.8"/>
<line x1="315.5" y1="403.6" x2="315.5" y2="397.3" stroke="#98e2ea" stroke-width="1.02" stroke-linecap="round" opacity="0.8"/>
<line x1="315.5" y1="397.3" x2="315.5" y2="391.0" stroke="#eeeeee" stroke-width="1.02" stroke-linecap="round" opacity="0.8"/>
<line x1="315.5" y1="403.6" x2="319.6" y2="404.1" stroke="#98e2ea" stroke-width="1.02" stroke-linecap="round" opacity="0.8"/>
<line x1="319.6" y1="404.1" x2="323.6" y2="404.5" stroke="#eeeeee" stroke-width="1.02" stroke-linecap="round" opacity="0.8"/>
<circle cx="95" cy="172" r="1.9" fill="url(#dor)"/>
<circle cx="58.6" cy="58.6" r="1.9" fill="url(#dor)"/>
<circle cx="84.7" cy="55.4" r="1.9" fill="url(#dor)"/>
<circle cx="89.6" cy="78" r="1.9" fill="url(#dor)"/>
<circle cx="48.9" cy="140" r="1.9" fill="url(#dor)"/>
<circle cx="161" cy="34" r="1.9" fill="url(#dor)"/>
<circle cx="169" cy="36" r="1.9" fill="url(#dor)"/>
<circle cx="188.6" cy="61.9" r="1.9" fill="url(#dor)"/>
<circle cx="149.5" cy="73.3" r="1.9" fill="url(#dor)"/>
<circle cx="174" cy="104" r="1.9" fill="url(#dor)"/>
<circle cx="154.4" cy="136.8" r="1.9" fill="url(#dor)"/>
<circle cx="221.2" cy="40.7" r="1.9" fill="url(#dor)"/>
<circle cx="205.6" cy="48.9" r="1.9" fill="url(#dor)"/>
<circle cx="317" cy="52" r="1.9" fill="url(#dor)"/>
<circle cx="344.7" cy="60.3" r="1.9" fill="url(#dor)"/>
<circle cx="282.8" cy="78.2" r="1.9" fill="url(#dor)"/>
<circle cx="301.4" cy="97" r="1.9" fill="url(#dor)"/>
<circle cx="333.3" cy="107.5" r="1.9" fill="url(#dor)"/>
<circle cx="64.7" cy="226.7" r="1.9" fill="url(#dor)"/>
<circle cx="71.7" cy="260.6" r="1.9" fill="url(#dor)"/>
<circle cx="85.6" cy="276.7" r="1.9" fill="url(#dor)"/>
<circle cx="110.6" cy="286.4" r="1.9" fill="url(#dor)"/>
<circle cx="171.4" cy="213.2" r="1.9" fill="url(#dor)"/>
<circle cx="190.5" cy="263.6" r="1.9" fill="url(#dor)"/>
<circle cx="198.6" cy="267.7" r="1.9" fill="url(#dor)"/>
<circle cx="168.6" cy="306.7" r="1.9" fill="url(#dor)"/>
<circle cx="198.6" cy="298.5" r="1.9" fill="url(#dor)"/>
<circle cx="296.3" cy="222.5" r="1.9" fill="url(#dor)"/>
<circle cx="319.5" cy="219.4" r="1.9" fill="url(#dor)"/>
<circle cx="345.7" cy="230.2" r="1.9" fill="url(#dor)"/>
<circle cx="328.7" cy="276.6" r="1.9" fill="url(#dor)"/>
<circle cx="311.7" cy="293.6" r="1.9" fill="url(#dor)"/>
<circle cx="321" cy="315.2" r="1.9" fill="url(#dor)"/>
<circle cx="361.2" cy="316.7" r="1.9" fill="url(#dor)"/>
<circle cx="100.7" cy="431.8" r="1.9" fill="url(#dor)"/>
<circle cx="142.9" cy="430" r="1.9" fill="url(#dor)"/>
<circle cx="112.4" cy="454.2" r="1.9" fill="url(#dor)"/>
<circle cx="212.7" cy="447.5" r="1.9" fill="url(#dor)"/>
<circle cx="244" cy="443.8" r="1.9" fill="url(#dor)"/>
<circle cx="250.7" cy="491.6" r="1.9" fill="url(#dor)"/>
<circle cx="313.2" cy="386.2" r="1.9" fill="url(#dor)"/>
<circle cx="323.1" cy="371.4" r="1.9" fill="url(#dor)"/>
<circle cx="334" cy="397.5" r="1.9" fill="url(#dor)"/>
<circle cx="346.2" cy="383.6" r="1.9" fill="url(#dor)"/>
<circle cx="363.7" cy="477.7" r="1.9" fill="url(#dor)"/>
<circle cx="306.1" cy="502.1" r="1.9" fill="url(#dor)"/>
<ellipse cx="378.9" cy="56" rx="2.9" ry="2.5" fill="url(#dor)"/>
<ellipse cx="425.7" cy="90.7" rx="2.9" ry="2.5" fill="url(#dor)"/>
<ellipse cx="393.6" cy="230.2" rx="2.9" ry="2.5" fill="url(#dor)"/>
<ellipse cx="378.2" cy="290.5" rx="2.9" ry="2.5" fill="url(#dor)"/>
<ellipse cx="396.7" cy="295.1" rx="2.9" ry="2.5" fill="url(#dor)"/>
<ellipse cx="375.1" cy="318.3" rx="2.9" ry="2.5" fill="url(#dor)"/>
<ellipse cx="430.7" cy="259.6" rx="2.9" ry="2.5" fill="url(#dor)"/>
<ellipse cx="295.1" cy="429" rx="2.9" ry="2.5" fill="url(#dor)"/>
<ellipse cx="405.5" cy="388.8" rx="2.9" ry="2.5" fill="url(#dor)"/>
<ellipse cx="422.9" cy="442.8" rx="2.9" ry="2.5" fill="url(#dor)"/>
<circle cx="188" cy="476" r="2.2" fill="url(#dyl)"/>
<circle cx="278" cy="40" r="2.2" fill="url(#dyl)"/>
<circle cx="129.6" cy="60" r="1.7" fill="url(#dcy)"/>
<circle cx="78" cy="107.5" r="1.7" fill="url(#dcy)"/>
<circle cx="129.6" cy="83.5" r="1.7" fill="url(#dcy)"/>
<circle cx="120.9" cy="125.8" r="1.7" fill="url(#dcy)"/>
<circle cx="178.9" cy="48.9" r="1.7" fill="url(#dcy)"/>
<circle cx="289.3" cy="98.4" r="1.7" fill="url(#dcy)"/>
<circle cx="304" cy="94.5" r="1.7" fill="url(#dcy)"/>
<circle cx="326.8" cy="104.2" r="1.7" fill="url(#dcy)"/>
<circle cx="354.5" cy="112.4" r="1.7" fill="url(#dcy)"/>
<circle cx="201" cy="93" r="1.7" fill="url(#dcy)"/>
<circle cx="127.2" cy="217" r="1.7" fill="url(#dcy)"/>
<circle cx="159.2" cy="273.3" r="1.7" fill="url(#dcy)"/>
<circle cx="167.3" cy="250" r="1.7" fill="url(#dcy)"/>
<circle cx="191.8" cy="266.4" r="1.7" fill="url(#dcy)"/>
<circle cx="225.9" cy="251.4" r="1.7" fill="url(#dcy)"/>
<circle cx="242.3" cy="258.2" r="1.7" fill="url(#dcy)"/>
<circle cx="370.5" cy="230.2" r="1.7" fill="url(#dcy)"/>
<circle cx="321" cy="239.5" r="1.7" fill="url(#dcy)"/>
<circle cx="327.2" cy="262.6" r="1.7" fill="url(#dcy)"/>
<circle cx="311.7" cy="281.2" r="1.7" fill="url(#dcy)"/>
<circle cx="283.9" cy="279.6" r="1.7" fill="url(#dcy)"/>
<circle cx="330.3" cy="290.5" r="1.7" fill="url(#dcy)"/>
<circle cx="154.5" cy="423" r="1.7" fill="url(#dcy)"/>
<circle cx="193.8" cy="435.3" r="1.7" fill="url(#dcy)"/>
<circle cx="142" cy="465" r="1.7" fill="url(#dcy)"/>
<circle cx="290.2" cy="427.4" r="1.7" fill="url(#dcy)"/>
<circle cx="358.4" cy="408" r="1.7" fill="url(#dcy)"/>
<circle cx="365.4" cy="441.1" r="1.7" fill="url(#dcy)"/>
<circle cx="321.8" cy="476" r="1.7" fill="url(#dcy)"/>
<line x1="134.5" y1="28" x2="130.4" y2="55.5" stroke="#4a4a4a" stroke-width="1.1" stroke-linecap="round"/>
<line x1="285.1" y1="14.5" x2="279" y2="38" stroke="#4a4a4a" stroke-width="1.1" stroke-linecap="round"/>
<line x1="32" y1="106.3" x2="76" y2="107.2" stroke="#4a4a4a" stroke-width="1.1" stroke-linecap="round"/>
<line x1="200.9" y1="109.5" x2="200.9" y2="94" stroke="#4a4a4a" stroke-width="1.1" stroke-linecap="round"/>
<line x1="322.1" y1="124.6" x2="326.5" y2="105.8" stroke="#4a4a4a" stroke-width="1.1" stroke-linecap="round"/>
<line x1="414.6" y1="120.4" x2="422.3" y2="96.5" stroke="#4a4a4a" stroke-width="1.1" stroke-linecap="round"/>
<line x1="379" y1="213.1" x2="372" y2="231.2" stroke="#4a4a4a" stroke-width="1.1" stroke-linecap="round"/>
<line x1="132" y1="305" x2="159.2" y2="273.9" stroke="#4a4a4a" stroke-width="1.1" stroke-linecap="round"/>
<line x1="281.8" y1="286.8" x2="283.2" y2="280" stroke="#4a4a4a" stroke-width="1.1" stroke-linecap="round"/>
<line x1="424.3" y1="286.5" x2="430.3" y2="263.4" stroke="#4a4a4a" stroke-width="1.1" stroke-linecap="round"/>
<line x1="210.9" y1="432.3" x2="204.1" y2="452.7" stroke="#4a4a4a" stroke-width="1.1" stroke-linecap="round"/>
<line x1="106.8" y1="473.8" x2="113.3" y2="454.1" stroke="#4a4a4a" stroke-width="1.1" stroke-linecap="round"/>
<line x1="182.9" y1="502.6" x2="186.6" y2="479.5" stroke="#4a4a4a" stroke-width="1.1" stroke-linecap="round"/>
<line x1="390.7" y1="367.5" x2="358.4" y2="408" stroke="#4a4a4a" stroke-width="1.1" stroke-linecap="round"/>
<line x1="326.4" y1="491.4" x2="321.6" y2="475.6" stroke="#4a4a4a" stroke-width="1.1" stroke-linecap="round"/>
<line x1="417.3" y1="469.5" x2="422.6" y2="446.6" stroke="#4a4a4a" stroke-width="1.1" stroke-linecap="round"/>
<linearGradient id="cb1" x1="0" y1="0" x2="0" y2="1"><stop offset="0" stop-color="#ff0000"/><stop offset="0.493" stop-color="#ffffff"/><stop offset="0.548" stop-color="#ffffff"/><stop offset="1" stop-color="#0000ff"/></linearGradient>
<rect x="435" y="33" width="11.2" height="97" fill="url(#cb1)"/>
<line x1="446.2" y1="33" x2="446.2" y2="130" stroke="#333" stroke-width="1"/>
<line x1="446.2" y1="33.00" x2="450.0" y2="33.00" stroke="#222" stroke-width="1.1"/>
<text x="481.8" y="35.50" text-anchor="end" class="tk" style="font-size:7.6px;letter-spacing:1.0px">50.00</text>
<line x1="446.2" y1="42.70" x2="450.0" y2="42.70" stroke="#222" stroke-width="1.1"/>
<text x="481.8" y="45.20" text-anchor="end" class="tk" style="font-size:7.6px;letter-spacing:1.0px">41.20</text>
<line x1="446.2" y1="52.40" x2="450.0" y2="52.40" stroke="#222" stroke-width="1.1"/>
<text x="481.8" y="54.90" text-anchor="end" class="tk" style="font-size:7.6px;letter-spacing:1.0px">32.40</text>
<line x1="446.2" y1="62.10" x2="450.0" y2="62.10" stroke="#222" stroke-width="1.1"/>
<text x="481.8" y="64.60" text-anchor="end" class="tk" style="font-size:7.6px;letter-spacing:1.0px">23.60</text>
<line x1="446.2" y1="71.80" x2="450.0" y2="71.80" stroke="#222" stroke-width="1.1"/>
<text x="481.8" y="74.30" text-anchor="end" class="tk" style="font-size:7.6px;letter-spacing:1.0px">14.80</text>
<line x1="446.2" y1="81.50" x2="450.0" y2="81.50" stroke="#222" stroke-width="1.1"/>
<text x="481.8" y="84.00" text-anchor="end" class="tk" style="font-size:7.6px;letter-spacing:1.0px">6.00</text>
<line x1="446.2" y1="91.20" x2="450.0" y2="91.20" stroke="#222" stroke-width="1.1"/>
<text x="481.8" y="93.70" text-anchor="end" class="tk" style="font-size:7.6px;letter-spacing:1.0px">−2.80</text>
<line x1="446.2" y1="100.90" x2="450.0" y2="100.90" stroke="#222" stroke-width="1.1"/>
<text x="481.8" y="103.40" text-anchor="end" class="tk" style="font-size:7.6px;letter-spacing:1.0px">−11.60</text>
<line x1="446.2" y1="110.60" x2="450.0" y2="110.60" stroke="#222" stroke-width="1.1"/>
<text x="481.8" y="113.10" text-anchor="end" class="tk" style="font-size:7.6px;letter-spacing:1.0px">−20.40</text>
<line x1="446.2" y1="120.30" x2="450.0" y2="120.30" stroke="#222" stroke-width="1.1"/>
<text x="481.8" y="122.80" text-anchor="end" class="tk" style="font-size:7.6px;letter-spacing:1.0px">−29.20</text>
<line x1="446.2" y1="130.00" x2="450.0" y2="130.00" stroke="#222" stroke-width="1.1"/>
<text x="481.8" y="132.50" text-anchor="end" class="tk" style="font-size:7.6px;letter-spacing:1.0px">−38.00</text>
<text x="435.5" y="17.4" class="tt" style="font-size:7.7px;letter-spacing:0.5px">ESP(kcal/mol)</text>
<linearGradient id="cb2" x1="0" y1="0" x2="0" y2="1"><stop offset="0" stop-color="#ff0000"/><stop offset="0.443" stop-color="#ffffff"/><stop offset="0.498" stop-color="#ffffff"/><stop offset="1" stop-color="#0000ff"/></linearGradient>
<rect x="440.5" y="218" width="12.5" height="106.5" fill="url(#cb2)"/>
<line x1="453.0" y1="218" x2="453.0" y2="324.5" stroke="#333" stroke-width="1"/>
<line x1="453.0" y1="218.00" x2="456.8" y2="218.00" stroke="#222" stroke-width="1.1"/>
<text x="485" y="220.50" text-anchor="end" class="tk" style="font-size:7px;letter-spacing:0.9px">43.00</text>
<line x1="453.0" y1="228.65" x2="456.8" y2="228.65" stroke="#222" stroke-width="1.1"/>
<text x="485" y="231.15" text-anchor="end" class="tk" style="font-size:7px;letter-spacing:0.9px">34.70</text>
<line x1="453.0" y1="239.30" x2="456.8" y2="239.30" stroke="#222" stroke-width="1.1"/>
<text x="485" y="241.80" text-anchor="end" class="tk" style="font-size:7px;letter-spacing:0.9px">26.40</text>
<line x1="453.0" y1="249.95" x2="456.8" y2="249.95" stroke="#222" stroke-width="1.1"/>
<text x="485" y="252.45" text-anchor="end" class="tk" style="font-size:7px;letter-spacing:0.9px">18.10</text>
<line x1="453.0" y1="260.60" x2="456.8" y2="260.60" stroke="#222" stroke-width="1.1"/>
<text x="485" y="263.10" text-anchor="end" class="tk" style="font-size:7px;letter-spacing:0.9px">9.80</text>
<line x1="453.0" y1="271.25" x2="456.8" y2="271.25" stroke="#222" stroke-width="1.1"/>
<text x="485" y="273.75" text-anchor="end" class="tk" style="font-size:7px;letter-spacing:0.9px">1.50</text>
<line x1="453.0" y1="281.90" x2="456.8" y2="281.90" stroke="#222" stroke-width="1.1"/>
<text x="485" y="284.40" text-anchor="end" class="tk" style="font-size:7px;letter-spacing:0.9px">−6.80</text>
<line x1="453.0" y1="292.55" x2="456.8" y2="292.55" stroke="#222" stroke-width="1.1"/>
<text x="485" y="295.05" text-anchor="end" class="tk" style="font-size:7px;letter-spacing:0.9px">−15.10</text>
<line x1="453.0" y1="303.20" x2="456.8" y2="303.20" stroke="#222" stroke-width="1.1"/>
<text x="485" y="305.70" text-anchor="end" class="tk" style="font-size:7px;letter-spacing:0.9px">−23.40</text>
<line x1="453.0" y1="313.85" x2="456.8" y2="313.85" stroke="#222" stroke-width="1.1"/>
<text x="485" y="316.35" text-anchor="end" class="tk" style="font-size:7px;letter-spacing:0.9px">−31.70</text>
<line x1="453.0" y1="324.50" x2="456.8" y2="324.50" stroke="#222" stroke-width="1.1"/>
<text x="485" y="327.00" text-anchor="end" class="tk" style="font-size:7px;letter-spacing:0.9px">−40.00</text>
<text x="441.4" y="201" class="tt" style="font-size:7px;letter-spacing:0.45px">ESP(kcal/mol)</text>
<linearGradient id="cb3" x1="0" y1="0" x2="0" y2="1"><stop offset="0" stop-color="#ff0000"/><stop offset="0.455" stop-color="#ffffff"/><stop offset="0.510" stop-color="#ffffff"/><stop offset="1" stop-color="#0000ff"/></linearGradient>
<rect x="439.2" y="403" width="10.6" height="86" fill="url(#cb3)"/>
<line x1="449.8" y1="403" x2="449.8" y2="489" stroke="#333" stroke-width="1"/>
<line x1="449.8" y1="403.00" x2="453.6" y2="403.00" stroke="#222" stroke-width="1.1"/>
<text x="481" y="405.50" text-anchor="end" class="tk" style="font-size:7px;letter-spacing:0.9px">44.00</text>
<line x1="449.8" y1="411.60" x2="453.6" y2="411.60" stroke="#222" stroke-width="1.1"/>
<text x="481" y="414.10" text-anchor="end" class="tk" style="font-size:7px;letter-spacing:0.9px">35.70</text>
<line x1="449.8" y1="420.20" x2="453.6" y2="420.20" stroke="#222" stroke-width="1.1"/>
<text x="481" y="422.70" text-anchor="end" class="tk" style="font-size:7px;letter-spacing:0.9px">27.40</text>
<line x1="449.8" y1="428.80" x2="453.6" y2="428.80" stroke="#222" stroke-width="1.1"/>
<text x="481" y="431.30" text-anchor="end" class="tk" style="font-size:7px;letter-spacing:0.9px">19.10</text>
<line x1="449.8" y1="437.40" x2="453.6" y2="437.40" stroke="#222" stroke-width="1.1"/>
<text x="481" y="439.90" text-anchor="end" class="tk" style="font-size:7px;letter-spacing:0.9px">10.80</text>
<line x1="449.8" y1="446.00" x2="453.6" y2="446.00" stroke="#222" stroke-width="1.1"/>
<text x="481" y="448.50" text-anchor="end" class="tk" style="font-size:7px;letter-spacing:0.9px">2.50</text>
<line x1="449.8" y1="454.60" x2="453.6" y2="454.60" stroke="#222" stroke-width="1.1"/>
<text x="481" y="457.10" text-anchor="end" class="tk" style="font-size:7px;letter-spacing:0.9px">−5.80</text>
<line x1="449.8" y1="463.20" x2="453.6" y2="463.20" stroke="#222" stroke-width="1.1"/>
<text x="481" y="465.70" text-anchor="end" class="tk" style="font-size:7px;letter-spacing:0.9px">−14.10</text>
<line x1="449.8" y1="471.80" x2="453.6" y2="471.80" stroke="#222" stroke-width="1.1"/>
<text x="481" y="474.30" text-anchor="end" class="tk" style="font-size:7px;letter-spacing:0.9px">−22.40</text>
<line x1="449.8" y1="480.40" x2="453.6" y2="480.40" stroke="#222" stroke-width="1.1"/>
<text x="481" y="482.90" text-anchor="end" class="tk" style="font-size:7px;letter-spacing:0.9px">−30.70</text>
<line x1="449.8" y1="489.00" x2="453.6" y2="489.00" stroke="#222" stroke-width="1.1"/>
<text x="481" y="491.50" text-anchor="end" class="tk" style="font-size:7px;letter-spacing:0.9px">−39.00</text>
<text x="440" y="388.8" class="tt" style="font-size:7px;letter-spacing:0.45px">ESP(kcal/mol)</text>
<text x="536" y="131.5" class="num">1</text>
<text x="536.3" y="311" class="num">2</text>
<text x="536.4" y="485" class="num">3</text>
<text x="135.85" y="25.21" class="lb" fill="#3c5ccc" stroke="#3c5ccc" stroke-width="0.35" style="font-size:10.5px">-33.44</text>
<text x="284.80" y="12.66" class="lb" fill="#d8467a" stroke="#d8467a" stroke-width="0.35" style="font-size:10.5px">+50.01</text>
<text x="4.40" y="107.61" class="lb" fill="#3c5ccc" stroke="#3c5ccc" stroke-width="0.35" style="font-size:10.5px">-19.16</text>
<text x="203.31" y="115.56" class="lb" fill="#3c5ccc" stroke="#3c5ccc" stroke-width="0.35" style="font-size:10.5px">-28.73</text>
<text x="319.43" y="134.61" class="lb" fill="#6a46c4" stroke="#6a46c4" stroke-width="0.35" style="font-size:10.5px">-4.90</text>
<text x="348.68" y="125.11" class="lb" fill="#3c5ccc" stroke="#3c5ccc" stroke-width="0.35" style="font-size:10.5px">-5.96</text>
<text x="404.34" y="128.56" class="lb" fill="#d8467a" stroke="#d8467a" stroke-width="0.35" style="font-size:10.5px">+20.56</text>
<text x="59.28" y="210.24" class="lb" fill="#de4444" stroke="#de4444" stroke-width="0.35" style="font-size:9.2px">+14.88</text>
<text x="123.79" y="210.99" class="lb" fill="#4a4ac4" stroke="#4a4ac4" stroke-width="0.35" style="font-size:9.2px">-27.14</text>
<text x="226.13" y="223.35" class="lb" fill="#de4444" stroke="#de4444" stroke-width="0.35" style="font-size:9.2px">+42.69</text>
<text x="381.73" y="211.19" class="lb" fill="#4a4ac4" stroke="#4a4ac4" stroke-width="0.35" style="font-size:9.2px">-17.38</text>
<text x="54.28" y="271.74" class="lb" fill="#de4444" stroke="#de4444" stroke-width="0.35" style="font-size:9.2px">+14.70</text>
<text x="128.09" y="311.94" class="lb" fill="#5848c8" stroke="#5848c8" stroke-width="0.35" style="font-size:9.2px">-18.06</text>
<text x="158.98" y="317.94" class="lb" fill="#de4444" stroke="#de4444" stroke-width="0.35" style="font-size:9.2px">+17.03</text>
<text x="192.98" y="307.10" class="lb" fill="#de4444" stroke="#de4444" stroke-width="0.35" style="font-size:9.2px">+32.83</text>
<text x="235.99" y="302.59" class="lb" fill="#4a4ac4" stroke="#4a4ac4" stroke-width="0.35" style="font-size:9.2px">-39.34</text>
<text x="277.58" y="294.70" class="lb" fill="#4a4ac4" stroke="#4a4ac4" stroke-width="0.35" style="font-size:9.2px">-32.65</text>
<text x="317.38" y="328.74" class="lb" fill="#de4444" stroke="#de4444" stroke-width="0.35" style="font-size:9.2px">+16.66</text>
<text x="412.69" y="292.94" class="lb" fill="#de4444" stroke="#de4444" stroke-width="0.35" style="font-size:9.2px">+14.04</text>
<text x="154.75" y="414.09" class="lb" fill="#5848c8" stroke="#5848c8" stroke-width="0.35" style="font-size:9.5px">-10.37</text>
<text x="74.34" y="428.99" class="lb" fill="#de4444" stroke="#de4444" stroke-width="0.35" style="font-size:9.5px">+11.22</text>
<text x="215.95" y="434.39" class="lb" fill="#de4444" stroke="#de4444" stroke-width="0.35" style="font-size:9.5px">+33.39</text>
<text x="103.16" y="481.54" class="lb" fill="#de4444" stroke="#de4444" stroke-width="0.35" style="font-size:9.5px">+13.79</text>
<text x="179.96" y="509.69" class="lb" fill="#de4444" stroke="#de4444" stroke-width="0.35" style="font-size:9.5px">+43.75</text>
<text x="324.11" y="366.44" class="lb" fill="#de4444" stroke="#de4444" stroke-width="0.35" style="font-size:9.5px">+16.97</text>
<text x="394.03" y="366.49" class="lb" fill="#4a4ac4" stroke="#4a4ac4" stroke-width="0.35" style="font-size:9.5px">-17.11</text>
<text x="327.74" y="499.09" class="lb" fill="#4a4ac4" stroke="#4a4ac4" stroke-width="0.35" style="font-size:9.5px">-25.12</text>
<text x="411.95" y="477.34" class="lb" fill="#de4444" stroke="#de4444" stroke-width="0.35" style="font-size:9.5px">+11.99</text>
</svg>
</body></html>
